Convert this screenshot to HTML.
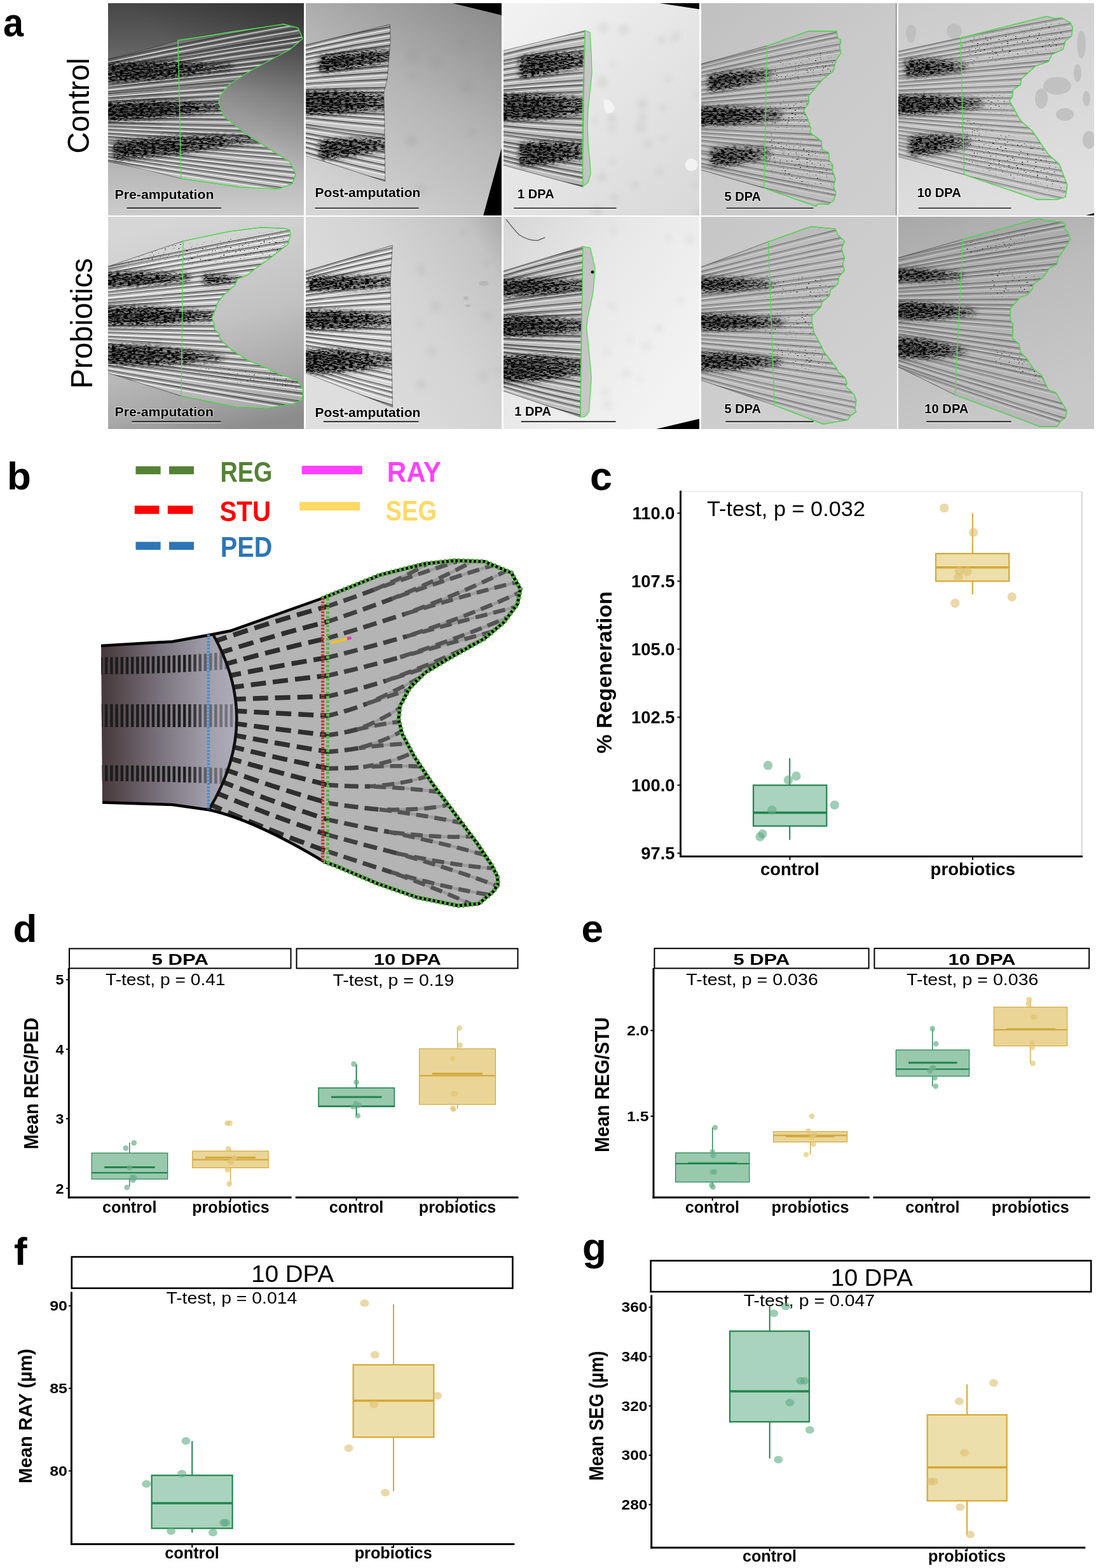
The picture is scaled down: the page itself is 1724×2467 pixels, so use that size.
<!DOCTYPE html>
<html><head><meta charset="utf-8"><title>Figure</title>
<style>html,body{margin:0;padding:0;background:#fff;}body{width:1724px;height:2467px;overflow:hidden;}svg{display:block;}</style>
</head><body>
<svg width="1724" height="2467" viewBox="0 0 1724 2467" font-family="'Liberation Sans', Arial, Helvetica, sans-serif">
<defs><filter id="pig0" x="-15%" y="-60%" width="130%" height="220%" color-interpolation-filters="sRGB">
<feGaussianBlur in="SourceGraphic" stdDeviation="4" result="b"/>
<feTurbulence type="fractalNoise" baseFrequency="0.16 0.5" numOctaves="2" seed="1" result="t"/>
<feColorMatrix in="t" type="matrix" values="0 0 0 0 0 0 0 0 0 0 0 0 0 0 0 9 0 0 0 -4.3" result="sp"/>
<feComposite in="sp" in2="b" operator="arithmetic" k1="1.2" k2="0" k3="0.6" k4="0"/>
</filter>
<filter id="spf0" x="-10%" y="-30%" width="120%" height="160%" color-interpolation-filters="sRGB">
<feGaussianBlur in="SourceGraphic" stdDeviation="6" result="b"/>
<feTurbulence type="fractalNoise" baseFrequency="0.38 0.6" numOctaves="1" seed="3" result="t"/>
<feColorMatrix in="t" type="matrix" values="0 0 0 0 0 0 0 0 0 0 0 0 0 0 0 16 0 0 0 -10.9" result="sp"/>
<feComposite in="sp" in2="b" operator="arithmetic" k1="1" k2="0" k3="0" k4="0"/>
</filter><filter id="pig1" x="-15%" y="-60%" width="130%" height="220%" color-interpolation-filters="sRGB">
<feGaussianBlur in="SourceGraphic" stdDeviation="4" result="b"/>
<feTurbulence type="fractalNoise" baseFrequency="0.16 0.5" numOctaves="2" seed="8" result="t"/>
<feColorMatrix in="t" type="matrix" values="0 0 0 0 0 0 0 0 0 0 0 0 0 0 0 9 0 0 0 -4.3" result="sp"/>
<feComposite in="sp" in2="b" operator="arithmetic" k1="1.2" k2="0" k3="0.6" k4="0"/>
</filter>
<filter id="spf1" x="-10%" y="-30%" width="120%" height="160%" color-interpolation-filters="sRGB">
<feGaussianBlur in="SourceGraphic" stdDeviation="6" result="b"/>
<feTurbulence type="fractalNoise" baseFrequency="0.38 0.6" numOctaves="1" seed="8" result="t"/>
<feColorMatrix in="t" type="matrix" values="0 0 0 0 0 0 0 0 0 0 0 0 0 0 0 16 0 0 0 -10.9" result="sp"/>
<feComposite in="sp" in2="b" operator="arithmetic" k1="1" k2="0" k3="0" k4="0"/>
</filter><filter id="pig2" x="-15%" y="-60%" width="130%" height="220%" color-interpolation-filters="sRGB">
<feGaussianBlur in="SourceGraphic" stdDeviation="4" result="b"/>
<feTurbulence type="fractalNoise" baseFrequency="0.16 0.5" numOctaves="2" seed="15" result="t"/>
<feColorMatrix in="t" type="matrix" values="0 0 0 0 0 0 0 0 0 0 0 0 0 0 0 9 0 0 0 -4.3" result="sp"/>
<feComposite in="sp" in2="b" operator="arithmetic" k1="1.2" k2="0" k3="0.6" k4="0"/>
</filter>
<filter id="spf2" x="-10%" y="-30%" width="120%" height="160%" color-interpolation-filters="sRGB">
<feGaussianBlur in="SourceGraphic" stdDeviation="6" result="b"/>
<feTurbulence type="fractalNoise" baseFrequency="0.38 0.6" numOctaves="1" seed="13" result="t"/>
<feColorMatrix in="t" type="matrix" values="0 0 0 0 0 0 0 0 0 0 0 0 0 0 0 16 0 0 0 -10.9" result="sp"/>
<feComposite in="sp" in2="b" operator="arithmetic" k1="1" k2="0" k3="0" k4="0"/>
</filter><filter id="pig3" x="-15%" y="-60%" width="130%" height="220%" color-interpolation-filters="sRGB">
<feGaussianBlur in="SourceGraphic" stdDeviation="4" result="b"/>
<feTurbulence type="fractalNoise" baseFrequency="0.16 0.5" numOctaves="2" seed="22" result="t"/>
<feColorMatrix in="t" type="matrix" values="0 0 0 0 0 0 0 0 0 0 0 0 0 0 0 9 0 0 0 -4.3" result="sp"/>
<feComposite in="sp" in2="b" operator="arithmetic" k1="1.2" k2="0" k3="0.6" k4="0"/>
</filter>
<filter id="spf3" x="-10%" y="-30%" width="120%" height="160%" color-interpolation-filters="sRGB">
<feGaussianBlur in="SourceGraphic" stdDeviation="6" result="b"/>
<feTurbulence type="fractalNoise" baseFrequency="0.38 0.6" numOctaves="1" seed="18" result="t"/>
<feColorMatrix in="t" type="matrix" values="0 0 0 0 0 0 0 0 0 0 0 0 0 0 0 16 0 0 0 -10.9" result="sp"/>
<feComposite in="sp" in2="b" operator="arithmetic" k1="1" k2="0" k3="0" k4="0"/>
</filter><filter id="pig4" x="-15%" y="-60%" width="130%" height="220%" color-interpolation-filters="sRGB">
<feGaussianBlur in="SourceGraphic" stdDeviation="4" result="b"/>
<feTurbulence type="fractalNoise" baseFrequency="0.16 0.5" numOctaves="2" seed="29" result="t"/>
<feColorMatrix in="t" type="matrix" values="0 0 0 0 0 0 0 0 0 0 0 0 0 0 0 9 0 0 0 -4.3" result="sp"/>
<feComposite in="sp" in2="b" operator="arithmetic" k1="1.2" k2="0" k3="0.6" k4="0"/>
</filter>
<filter id="spf4" x="-10%" y="-30%" width="120%" height="160%" color-interpolation-filters="sRGB">
<feGaussianBlur in="SourceGraphic" stdDeviation="6" result="b"/>
<feTurbulence type="fractalNoise" baseFrequency="0.38 0.6" numOctaves="1" seed="23" result="t"/>
<feColorMatrix in="t" type="matrix" values="0 0 0 0 0 0 0 0 0 0 0 0 0 0 0 16 0 0 0 -10.9" result="sp"/>
<feComposite in="sp" in2="b" operator="arithmetic" k1="1" k2="0" k3="0" k4="0"/>
</filter><filter id="pig5" x="-15%" y="-60%" width="130%" height="220%" color-interpolation-filters="sRGB">
<feGaussianBlur in="SourceGraphic" stdDeviation="4" result="b"/>
<feTurbulence type="fractalNoise" baseFrequency="0.16 0.5" numOctaves="2" seed="36" result="t"/>
<feColorMatrix in="t" type="matrix" values="0 0 0 0 0 0 0 0 0 0 0 0 0 0 0 9 0 0 0 -4.3" result="sp"/>
<feComposite in="sp" in2="b" operator="arithmetic" k1="1.2" k2="0" k3="0.6" k4="0"/>
</filter>
<filter id="spf5" x="-10%" y="-30%" width="120%" height="160%" color-interpolation-filters="sRGB">
<feGaussianBlur in="SourceGraphic" stdDeviation="6" result="b"/>
<feTurbulence type="fractalNoise" baseFrequency="0.38 0.6" numOctaves="1" seed="28" result="t"/>
<feColorMatrix in="t" type="matrix" values="0 0 0 0 0 0 0 0 0 0 0 0 0 0 0 16 0 0 0 -10.9" result="sp"/>
<feComposite in="sp" in2="b" operator="arithmetic" k1="1" k2="0" k3="0" k4="0"/>
</filter><filter id="pig6" x="-15%" y="-60%" width="130%" height="220%" color-interpolation-filters="sRGB">
<feGaussianBlur in="SourceGraphic" stdDeviation="4" result="b"/>
<feTurbulence type="fractalNoise" baseFrequency="0.16 0.5" numOctaves="2" seed="43" result="t"/>
<feColorMatrix in="t" type="matrix" values="0 0 0 0 0 0 0 0 0 0 0 0 0 0 0 9 0 0 0 -4.3" result="sp"/>
<feComposite in="sp" in2="b" operator="arithmetic" k1="1.2" k2="0" k3="0.6" k4="0"/>
</filter>
<filter id="spf6" x="-10%" y="-30%" width="120%" height="160%" color-interpolation-filters="sRGB">
<feGaussianBlur in="SourceGraphic" stdDeviation="6" result="b"/>
<feTurbulence type="fractalNoise" baseFrequency="0.38 0.6" numOctaves="1" seed="33" result="t"/>
<feColorMatrix in="t" type="matrix" values="0 0 0 0 0 0 0 0 0 0 0 0 0 0 0 16 0 0 0 -10.9" result="sp"/>
<feComposite in="sp" in2="b" operator="arithmetic" k1="1" k2="0" k3="0" k4="0"/>
</filter><filter id="pig7" x="-15%" y="-60%" width="130%" height="220%" color-interpolation-filters="sRGB">
<feGaussianBlur in="SourceGraphic" stdDeviation="4" result="b"/>
<feTurbulence type="fractalNoise" baseFrequency="0.16 0.5" numOctaves="2" seed="50" result="t"/>
<feColorMatrix in="t" type="matrix" values="0 0 0 0 0 0 0 0 0 0 0 0 0 0 0 9 0 0 0 -4.3" result="sp"/>
<feComposite in="sp" in2="b" operator="arithmetic" k1="1.2" k2="0" k3="0.6" k4="0"/>
</filter>
<filter id="spf7" x="-10%" y="-30%" width="120%" height="160%" color-interpolation-filters="sRGB">
<feGaussianBlur in="SourceGraphic" stdDeviation="6" result="b"/>
<feTurbulence type="fractalNoise" baseFrequency="0.38 0.6" numOctaves="1" seed="38" result="t"/>
<feColorMatrix in="t" type="matrix" values="0 0 0 0 0 0 0 0 0 0 0 0 0 0 0 16 0 0 0 -10.9" result="sp"/>
<feComposite in="sp" in2="b" operator="arithmetic" k1="1" k2="0" k3="0" k4="0"/>
</filter><filter id="pig8" x="-15%" y="-60%" width="130%" height="220%" color-interpolation-filters="sRGB">
<feGaussianBlur in="SourceGraphic" stdDeviation="4" result="b"/>
<feTurbulence type="fractalNoise" baseFrequency="0.16 0.5" numOctaves="2" seed="57" result="t"/>
<feColorMatrix in="t" type="matrix" values="0 0 0 0 0 0 0 0 0 0 0 0 0 0 0 9 0 0 0 -4.3" result="sp"/>
<feComposite in="sp" in2="b" operator="arithmetic" k1="1.2" k2="0" k3="0.6" k4="0"/>
</filter>
<filter id="spf8" x="-10%" y="-30%" width="120%" height="160%" color-interpolation-filters="sRGB">
<feGaussianBlur in="SourceGraphic" stdDeviation="6" result="b"/>
<feTurbulence type="fractalNoise" baseFrequency="0.38 0.6" numOctaves="1" seed="43" result="t"/>
<feColorMatrix in="t" type="matrix" values="0 0 0 0 0 0 0 0 0 0 0 0 0 0 0 16 0 0 0 -10.9" result="sp"/>
<feComposite in="sp" in2="b" operator="arithmetic" k1="1" k2="0" k3="0" k4="0"/>
</filter><filter id="pig9" x="-15%" y="-60%" width="130%" height="220%" color-interpolation-filters="sRGB">
<feGaussianBlur in="SourceGraphic" stdDeviation="4" result="b"/>
<feTurbulence type="fractalNoise" baseFrequency="0.16 0.5" numOctaves="2" seed="64" result="t"/>
<feColorMatrix in="t" type="matrix" values="0 0 0 0 0 0 0 0 0 0 0 0 0 0 0 9 0 0 0 -4.3" result="sp"/>
<feComposite in="sp" in2="b" operator="arithmetic" k1="1.2" k2="0" k3="0.6" k4="0"/>
</filter>
<filter id="spf9" x="-10%" y="-30%" width="120%" height="160%" color-interpolation-filters="sRGB">
<feGaussianBlur in="SourceGraphic" stdDeviation="6" result="b"/>
<feTurbulence type="fractalNoise" baseFrequency="0.38 0.6" numOctaves="1" seed="48" result="t"/>
<feColorMatrix in="t" type="matrix" values="0 0 0 0 0 0 0 0 0 0 0 0 0 0 0 16 0 0 0 -10.9" result="sp"/>
<feComposite in="sp" in2="b" operator="arithmetic" k1="1" k2="0" k3="0" k4="0"/>
</filter><filter id="bl2" x="-20%" y="-50%" width="140%" height="200%"><feGaussianBlur stdDeviation="2.2"/></filter><filter id="bl4" x="-20%" y="-50%" width="140%" height="200%"><feGaussianBlur stdDeviation="4"/></filter><filter id="bl10" x="-50%" y="-50%" width="200%" height="200%"><feGaussianBlur stdDeviation="10"/></filter><clipPath id="clipP"><rect width="308" height="334"/></clipPath><linearGradient id="p11bg0" x1="0" y1="0" x2="0" y2="334" gradientUnits="userSpaceOnUse"><stop offset="0" stop-color="#474747"/><stop offset="0.2" stop-color="#5f5f5f"/><stop offset="0.42" stop-color="#8c8c8c"/><stop offset="0.7" stop-color="#aeaeae"/><stop offset="1" stop-color="#cccccc"/></linearGradient><linearGradient id="p11bg1" x1="308" y1="0" x2="170" y2="140" gradientUnits="userSpaceOnUse"><stop offset="0" stop-color="#000" stop-opacity="0.3"/><stop offset="1" stop-color="#000" stop-opacity="0"/></linearGradient><clipPath id="p11fc"><path d="M-5.0,89.0 L60.0,73.0 L110.0,58.5 L200.0,42.0 L276.0,33.0 L299.0,39.0 L306.0,56.0 L286.0,73.0 L223.0,107.0 L191.0,128.0 L176.0,146.0 L174.0,156.0 L182.0,178.0 L217.0,206.0 L286.0,250.0 L295.0,269.0 L290.0,284.0 L269.0,292.0 L211.0,290.0 L115.0,276.0 L60.0,262.0 L-5.0,248.0 Z"/></clipPath><linearGradient id="p12bg0" x1="260" y1="0" x2="60" y2="334" gradientUnits="userSpaceOnUse"><stop offset="0" stop-color="#8e8e8e"/><stop offset="0.45" stop-color="#b6b6b6"/><stop offset="1" stop-color="#d6d6d6"/></linearGradient><clipPath id="p12fc"><path d="M-5.0,67.0 L132.4,33.6 L133.0,60.0 L128.0,120.0 L122.8,141.0 L124.0,200.0 L124.8,280.2 L-5.0,238.0 Z"/></clipPath><linearGradient id="p13bg0" x1="0" y1="0" x2="308" y2="334" gradientUnits="userSpaceOnUse"><stop offset="0" stop-color="#f3f3f3"/><stop offset="0.45" stop-color="#e6e6e6"/><stop offset="1" stop-color="#d8d8d8"/></linearGradient><clipPath id="p13fc"><path d="M-5.0,76.0 L128.2,43.2 L126.0,150.0 L124.5,270.0 L124.8,289.0 L-5.0,253.4 Z"/></clipPath><linearGradient id="p14bg0" x1="0" y1="0" x2="308" y2="334" gradientUnits="userSpaceOnUse"><stop offset="0" stop-color="#c0c0c0"/><stop offset="0.5" stop-color="#cacaca"/><stop offset="1" stop-color="#cfcfcf"/></linearGradient><clipPath id="p14fc"><path d="M-5.0,97.0 L103.6,67.2 L168.9,43.8 L213.0,43.8 L215.0,55.7 L219.7,57.6 L217.8,69.0 L219.7,78.7 L212.0,90.2 L207.3,107.5 L191.9,119.0 L168.9,145.9 L168.9,157.4 L161.2,168.9 L167.0,180.4 L172.7,197.7 L170.8,203.4 L189.0,216.9 L190.0,230.3 L200.5,235.1 L201.5,247.6 L207.3,255.2 L206.3,262.9 L211.1,276.4 L208.2,287.9 L212.0,299.4 L208.2,310.9 L199.6,316.7 L184.2,315.7 L180.4,319.5 L98.8,290.8 L-5.0,261.0 Z"/></clipPath><linearGradient id="p15bg0" x1="0" y1="0" x2="120" y2="334" gradientUnits="userSpaceOnUse"><stop offset="0" stop-color="#cacaca"/><stop offset="0.5" stop-color="#d5d5d5"/><stop offset="1" stop-color="#dfdfdf"/></linearGradient><clipPath id="p15fc"><path d="M-5.0,77.0 L97.9,54.7 L233.2,20.7 L245.6,24.0 L257.2,23.0 L270.6,30.7 L274.4,38.4 L272.5,51.8 L262.9,59.5 L259.1,72.9 L241.8,80.6 L236.0,92.1 L215.9,98.8 L193.8,119.0 L191.9,128.6 L180.4,136.3 L179.4,147.8 L174.6,153.5 L180.4,163.1 L191.9,184.2 L211.1,201.5 L236.0,238.0 L253.3,253.3 L265.8,286.0 L262.9,305.1 L249.5,309.0 L218.8,309.0 L103.6,269.6 L-5.0,240.0 Z"/></clipPath><linearGradient id="p21bg0" x1="120" y1="0" x2="220" y2="334" gradientUnits="userSpaceOnUse"><stop offset="0" stop-color="#d6d6d6"/><stop offset="0.5" stop-color="#c2c2c2"/><stop offset="0.8" stop-color="#a8a8a8"/><stop offset="1" stop-color="#8c8c8c"/></linearGradient><clipPath id="p21fc"><path d="M-5.0,80.0 L118.0,38.4 L191.9,23.0 L239.9,16.9 L276.3,18.2 L285.9,21.1 L286.9,28.8 L283.0,43.2 L266.7,55.7 L249.5,69.1 L230.3,82.5 L218.8,92.1 L203.4,97.9 L199.6,107.5 L182.3,122.8 L172.7,134.3 L168.9,145.9 L163.1,159.3 L167.0,168.9 L167.0,176.6 L174.6,184.2 L175.6,191.9 L193.8,209.2 L220.7,226.4 L249.5,238.0 L268.7,247.6 L297.4,257.2 L307.0,272.5 L305.1,287.9 L293.6,293.6 L249.5,301.3 L201.5,299.4 L115.1,282.1 L-5.0,244.0 Z"/></clipPath><linearGradient id="p22bg0" x1="0" y1="200" x2="308" y2="0" gradientUnits="userSpaceOnUse"><stop offset="0" stop-color="#dedede"/><stop offset="0.5" stop-color="#d4d4d4"/><stop offset="0.85" stop-color="#c4c4c4"/><stop offset="1" stop-color="#a8a8a8"/></linearGradient><clipPath id="p22fc"><path d="M-5.0,87.0 L136.3,45.1 L133.0,100.0 L134.0,170.0 L136.5,299.4 L-5.0,244.0 Z"/></clipPath><linearGradient id="p23bg0" x1="0" y1="0" x2="308" y2="220" gradientUnits="userSpaceOnUse"><stop offset="0" stop-color="#d6d6d6"/><stop offset="0.45" stop-color="#e8e8e8"/><stop offset="1" stop-color="#f3f3f3"/></linearGradient><clipPath id="p23fc"><path d="M-5.0,87.0 L124.8,47.0 L121.0,315.0 L-5.0,272.5 Z"/></clipPath><linearGradient id="p24bg0" x1="0" y1="0" x2="308" y2="334" gradientUnits="userSpaceOnUse"><stop offset="0" stop-color="#c6c6c6"/><stop offset="0.5" stop-color="#cdcdcd"/><stop offset="1" stop-color="#d2d2d2"/></linearGradient><clipPath id="p24fc"><path d="M-5.0,81.0 L105.6,39.3 L172.7,15.4 L211.1,19.2 L215.0,28.8 L225.5,38.4 L220.7,49.9 L225.5,65.3 L222.6,74.9 L225.5,84.5 L216.9,94.0 L215.0,105.6 L203.4,115.2 L201.5,124.8 L190.0,134.4 L188.1,142.0 L174.6,155.5 L173.7,163.1 L177.5,182.3 L190.0,205.4 L191.9,211.1 L213.0,238.0 L215.0,243.8 L226.5,253.4 L229.4,263.0 L226.5,265.8 L240.9,280.2 L243.8,289.8 L241.8,303.3 L243.8,307.1 L235.1,312.9 L230.3,319.6 L191.9,326.3 L115.2,296.5 L-5.0,255.3 Z"/></clipPath><linearGradient id="p25bg0" x1="0" y1="0" x2="120" y2="334" gradientUnits="userSpaceOnUse"><stop offset="0" stop-color="#a8a8a8"/><stop offset="0.45" stop-color="#bcbcbc"/><stop offset="1" stop-color="#c8c8c8"/></linearGradient><clipPath id="p25fc"><path d="M-5.0,66.0 L101.7,35.5 L220.7,2.9 L230.3,5.8 L259.1,8.6 L262.9,13.4 L261.0,17.3 L266.8,25.0 L270.6,35.5 L262.9,48.0 L255.3,59.5 L251.4,65.3 L249.5,74.9 L238.0,80.6 L227.4,96.0 L213.0,105.6 L211.1,113.2 L203.4,122.8 L191.9,126.7 L176.6,144.0 L175.6,161.2 L180.4,168.9 L179.5,191.9 L190.0,199.6 L191.9,213.0 L201.5,222.6 L213.0,239.9 L225.5,249.5 L236.1,272.5 L247.6,276.4 L264.9,305.1 L262.9,316.7 L256.2,320.5 L249.5,330.1 L222.6,330.1 L89.2,280.2 L-5.0,234.0 Z"/></clipPath></defs>
<rect width="1724" height="2467" fill="#fff"/>
<g transform="translate(170,5)"><g clip-path="url(#clipP)"><rect width="308" height="334" fill="url(#p11bg0)"/><rect width="308" height="334" fill="url(#p11bg1)"/><path d="M-5.0,89.0 L60.0,73.0 L110.0,58.5 L200.0,42.0 L276.0,33.0 L299.0,39.0 L306.0,56.0 L286.0,73.0 L223.0,107.0 L191.0,128.0 L176.0,146.0 L174.0,156.0 L182.0,178.0 L217.0,206.0 L286.0,250.0 L295.0,269.0 L290.0,284.0 L269.0,292.0 L211.0,290.0 L115.0,276.0 L60.0,262.0 L-5.0,248.0 Z" fill="#d0d0d0" fill-opacity="0.22" stroke="#2a2a2a" stroke-opacity="0.5" stroke-width="1.2"/><g clip-path="url(#p11fc)" fill="none"><g stroke="#f6f6f6" stroke-width="2.2" stroke-opacity="0.6"><path d="M-10,95.3 Q151.0,59.9 317.0,30.5"/><path d="M-10,100.8 Q151.0,67.6 317.0,40.1"/><path d="M-10,107.5 Q151.0,77.1 317.0,51.8"/><path d="M-10,111.2 Q151.0,82.3 317.0,58.3"/><path d="M-10,116.6 Q151.0,89.9 317.0,67.7"/><path d="M-10,123.4 Q151.0,99.6 317.0,79.7"/><path d="M-10,128.6 Q151.0,106.9 317.0,88.7"/><path d="M-10,132.9 Q151.0,113.0 317.0,96.3"/><path d="M-10,137.8 Q151.0,120.0 317.0,105.0"/><path d="M-10,144.8 Q151.0,129.8 317.0,117.1"/><path d="M-10,148.1 Q151.0,134.6 317.0,123.0"/><path d="M-10,153.8 Q151.0,142.6 317.0,132.9"/><path d="M-10,159.4 Q151.0,150.6 317.0,142.8"/><path d="M-10,165.4 Q151.0,159.0 317.0,153.3"/><path d="M-10,171.2 Q151.0,167.2 317.0,163.4"/><path d="M-10,175.6 Q151.0,173.5 317.0,171.1"/><path d="M-10,180.1 Q151.0,179.8 317.0,178.9"/><path d="M-10,185.4 Q151.0,187.4 317.0,188.3"/><path d="M-10,191.7 Q151.0,196.2 317.0,199.3"/><path d="M-10,196.7 Q151.0,203.4 317.0,208.2"/><path d="M-10,202.1 Q151.0,210.9 317.0,217.5"/><path d="M-10,207.9 Q151.0,219.1 317.0,227.7"/><path d="M-10,213.2 Q151.0,226.6 317.0,236.9"/><path d="M-10,218.0 Q151.0,233.5 317.0,245.4"/><path d="M-10,222.3 Q151.0,239.5 317.0,252.8"/><path d="M-10,229.0 Q151.0,249.0 317.0,264.7"/><path d="M-10,233.7 Q151.0,255.7 317.0,272.9"/><path d="M-10,239.2 Q151.0,263.4 317.0,282.5"/><path d="M-10,243.7 Q151.0,269.9 317.0,290.5"/><path d="M-10,249.5 Q151.0,278.1 317.0,300.6"/></g><g stroke="#1a1a1a" stroke-width="1.1" stroke-opacity="0.85"><path d="M-10,90.9 Q151.0,55.5 317.0,26.1"/><path d="M-10,96.4 Q151.0,63.2 317.0,35.7"/><path d="M-10,103.1 Q151.0,72.7 317.0,47.4"/><path d="M-10,106.8 Q151.0,77.9 317.0,53.9"/><path d="M-10,112.2 Q151.0,85.5 317.0,63.3"/><path d="M-10,119.0 Q151.0,95.2 317.0,75.3"/><path d="M-10,124.2 Q151.0,102.5 317.0,84.3"/><path d="M-10,128.5 Q151.0,108.6 317.0,91.9"/><path d="M-10,133.4 Q151.0,115.6 317.0,100.6"/><path d="M-10,140.4 Q151.0,125.4 317.0,112.7"/><path d="M-10,143.7 Q151.0,130.2 317.0,118.6"/><path d="M-10,149.4 Q151.0,138.2 317.0,128.5"/><path d="M-10,155.0 Q151.0,146.2 317.0,138.4"/><path d="M-10,161.0 Q151.0,154.6 317.0,148.9"/><path d="M-10,166.8 Q151.0,162.8 317.0,159.0"/><path d="M-10,171.2 Q151.0,169.1 317.0,166.7"/><path d="M-10,175.7 Q151.0,175.4 317.0,174.5"/><path d="M-10,181.0 Q151.0,183.0 317.0,183.9"/><path d="M-10,187.3 Q151.0,191.8 317.0,194.9"/><path d="M-10,192.3 Q151.0,199.0 317.0,203.8"/><path d="M-10,197.7 Q151.0,206.5 317.0,213.1"/><path d="M-10,203.5 Q151.0,214.7 317.0,223.3"/><path d="M-10,208.8 Q151.0,222.2 317.0,232.5"/><path d="M-10,213.6 Q151.0,229.1 317.0,241.0"/><path d="M-10,217.9 Q151.0,235.1 317.0,248.4"/><path d="M-10,224.6 Q151.0,244.6 317.0,260.3"/><path d="M-10,229.3 Q151.0,251.3 317.0,268.5"/><path d="M-10,234.8 Q151.0,259.0 317.0,278.1"/><path d="M-10,239.3 Q151.0,265.5 317.0,286.1"/><path d="M-10,245.1 Q151.0,273.7 317.0,296.2"/></g><g stroke="#1a1a1a" stroke-width="0.9" stroke-opacity="0.47"><path d="M-10,92.9 Q151.0,57.5 317.0,28.1"/><path d="M-10,98.4 Q151.0,65.2 317.0,37.7"/><path d="M-10,105.1 Q151.0,74.7 317.0,49.4"/><path d="M-10,108.8 Q151.0,79.9 317.0,55.9"/><path d="M-10,114.2 Q151.0,87.5 317.0,65.3"/><path d="M-10,121.0 Q151.0,97.2 317.0,77.3"/><path d="M-10,126.2 Q151.0,104.5 317.0,86.3"/><path d="M-10,130.5 Q151.0,110.6 317.0,93.9"/><path d="M-10,135.4 Q151.0,117.6 317.0,102.6"/><path d="M-10,142.4 Q151.0,127.4 317.0,114.7"/><path d="M-10,145.7 Q151.0,132.2 317.0,120.6"/><path d="M-10,151.4 Q151.0,140.2 317.0,130.5"/><path d="M-10,157.0 Q151.0,148.2 317.0,140.4"/><path d="M-10,163.0 Q151.0,156.6 317.0,150.9"/><path d="M-10,168.8 Q151.0,164.8 317.0,161.0"/><path d="M-10,173.2 Q151.0,171.1 317.0,168.7"/><path d="M-10,177.7 Q151.0,177.4 317.0,176.5"/><path d="M-10,183.0 Q151.0,185.0 317.0,185.9"/><path d="M-10,189.3 Q151.0,193.8 317.0,196.9"/><path d="M-10,194.3 Q151.0,201.0 317.0,205.8"/><path d="M-10,199.7 Q151.0,208.5 317.0,215.1"/><path d="M-10,205.5 Q151.0,216.7 317.0,225.3"/><path d="M-10,210.8 Q151.0,224.2 317.0,234.5"/><path d="M-10,215.6 Q151.0,231.1 317.0,243.0"/><path d="M-10,219.9 Q151.0,237.1 317.0,250.4"/><path d="M-10,226.6 Q151.0,246.6 317.0,262.3"/><path d="M-10,231.3 Q151.0,253.3 317.0,270.5"/><path d="M-10,236.8 Q151.0,261.0 317.0,280.1"/><path d="M-10,241.3 Q151.0,267.5 317.0,288.1"/><path d="M-10,247.1 Q151.0,275.7 317.0,298.2"/></g><g filter="url(#pig0)"><polygon points="-2.0,95.6 84.4,91.1 190.0,94.2 200.0,100.0 190.0,105.8 84.4,119.9 -2.0,124.4" fill="#000" fill-opacity="0.47"/><polygon points="-2.0,96.3 62.8,92.9 142.0,95.7 152.0,102.5 142.0,109.3 62.8,120.3 -2.0,123.7" fill="#000" fill-opacity="0.42"/><polygon points="-2.0,97.8 36.9,95.7 84.4,97.9 94.4,105.5 84.4,113.1 36.9,120.2 -2.0,122.2" fill="#000" fill-opacity="0.42"/><polygon points="-2.0,156.6 79.0,152.5 178.0,156.2 188.0,162.0 178.0,167.8 79.0,181.3 -2.0,185.4" fill="#000" fill-opacity="0.52"/><polygon points="-2.0,157.3 58.8,154.3 133.0,157.4 143.0,164.2 133.0,171.1 58.8,181.6 -2.0,184.7" fill="#000" fill-opacity="0.47"/><polygon points="-2.0,158.8 34.5,156.9 79.0,159.4 89.0,166.9 79.0,174.5 34.5,181.4 -2.0,183.2" fill="#000" fill-opacity="0.47"/><polygon points="10.0,217.6 111.2,208.6 235.0,205.3 245.0,212.0 235.0,218.7 111.2,237.4 10.0,246.4" fill="#000" fill-opacity="0.44"/><polygon points="10.0,218.3 85.9,211.6 178.8,209.5 188.8,217.0 178.8,224.5 85.9,238.9 10.0,245.7" fill="#000" fill-opacity="0.40"/><polygon points="10.0,219.8 55.6,215.7 111.2,215.0 121.2,223.0 111.2,231.0 55.6,240.2 10.0,244.2" fill="#000" fill-opacity="0.40"/></g></g><polygon points="110.0,58.5 276.0,33.0 299.0,39.0 306.0,56.0 286.0,73.0 223.0,107.0 191.0,128.0 176.0,146.0 174.0,156.0 182.0,178.0 217.0,206.0 286.0,250.0 295.0,269.0 290.0,284.0 269.0,292.0 211.0,290.0 115.0,276.0" fill="none" stroke="#4fe04f" stroke-width="1.4" stroke-linejoin="round"/><text x="10.6" y="308" font-size="20.8" font-weight="bold" textLength="155.8" lengthAdjust="spacingAndGlyphs" stroke="#fff" stroke-width="2.2" stroke-opacity="0.55" paint-order="stroke" stroke-linejoin="round">Pre-amputation</text><line x1="29.5" y1="323.4" x2="178" y2="323.4" stroke="#fff" stroke-opacity="0.5" stroke-width="3"/><line x1="29.5" y1="322.4" x2="178" y2="322.4" stroke="#111" stroke-width="1.7"/></g></g><g transform="translate(481,5)"><g clip-path="url(#clipP)"><rect width="308" height="334" fill="url(#p12bg0)"/><g fill="#909090" opacity="0.2" filter="url(#bl4)"><circle cx="166" cy="217" r="9.6"/><circle cx="291" cy="96" r="6.8"/><circle cx="260" cy="204" r="7.1"/><circle cx="253" cy="131" r="10.4"/><circle cx="168" cy="83" r="11.3"/><circle cx="204" cy="93" r="10.6"/><circle cx="245" cy="62" r="8.9"/><circle cx="250" cy="66" r="9.6"/><circle cx="168" cy="114" r="5.6"/><circle cx="181" cy="294" r="7.8"/></g><path d="M-5.0,67.0 L132.4,33.6 L133.0,60.0 L128.0,120.0 L122.8,141.0 L124.0,200.0 L124.8,280.2 L-5.0,238.0 Z" fill="#c8c8c8" fill-opacity="0.2" stroke="#2a2a2a" stroke-opacity="0.5" stroke-width="1.2"/><g clip-path="url(#p12fc)" fill="none"><g stroke="#f6f6f6" stroke-width="2.2" stroke-opacity="0.6"><path d="M-10,73.0 Q65.0,53.1 145.0,39.2"/><path d="M-10,79.8 Q65.0,61.7 145.0,49.1"/><path d="M-10,87.1 Q65.0,70.9 145.0,59.6"/><path d="M-10,93.6 Q65.0,79.1 145.0,69.0"/><path d="M-10,102.8 Q65.0,90.5 145.0,82.2"/><path d="M-10,109.7 Q65.0,99.2 145.0,92.1"/><path d="M-10,116.3 Q65.0,107.5 145.0,101.6"/><path d="M-10,123.5 Q65.0,116.6 145.0,112.1"/><path d="M-10,131.5 Q65.0,126.6 145.0,123.6"/><path d="M-10,140.7 Q65.0,138.1 145.0,136.8"/><path d="M-10,145.8 Q65.0,144.6 145.0,144.3"/><path d="M-10,153.8 Q65.0,154.7 145.0,155.8"/><path d="M-10,161.5 Q65.0,164.3 145.0,166.9"/><path d="M-10,170.7 Q65.0,175.9 145.0,180.2"/><path d="M-10,176.3 Q65.0,182.9 145.0,188.2"/><path d="M-10,183.5 Q65.0,192.0 145.0,198.6"/><path d="M-10,193.6 Q65.0,204.7 145.0,213.2"/><path d="M-10,197.9 Q65.0,210.0 145.0,219.4"/><path d="M-10,206.9 Q65.0,221.3 145.0,232.4"/><path d="M-10,213.4 Q65.0,229.5 145.0,241.7"/><path d="M-10,220.9 Q65.0,238.9 145.0,252.6"/><path d="M-10,228.1 Q65.0,247.9 145.0,262.9"/><path d="M-10,236.2 Q65.0,258.1 145.0,274.5"/><path d="M-10,245.4 Q65.0,269.6 145.0,287.8"/></g><g stroke="#1a1a1a" stroke-width="1.1" stroke-opacity="0.9"><path d="M-10,68.6 Q65.0,48.7 145.0,34.8"/><path d="M-10,75.4 Q65.0,57.3 145.0,44.7"/><path d="M-10,82.7 Q65.0,66.5 145.0,55.2"/><path d="M-10,89.2 Q65.0,74.7 145.0,64.6"/><path d="M-10,98.4 Q65.0,86.1 145.0,77.8"/><path d="M-10,105.3 Q65.0,94.8 145.0,87.7"/><path d="M-10,111.9 Q65.0,103.1 145.0,97.2"/><path d="M-10,119.1 Q65.0,112.2 145.0,107.7"/><path d="M-10,127.1 Q65.0,122.2 145.0,119.2"/><path d="M-10,136.3 Q65.0,133.7 145.0,132.4"/><path d="M-10,141.4 Q65.0,140.2 145.0,139.9"/><path d="M-10,149.4 Q65.0,150.3 145.0,151.4"/><path d="M-10,157.1 Q65.0,159.9 145.0,162.5"/><path d="M-10,166.3 Q65.0,171.5 145.0,175.8"/><path d="M-10,171.9 Q65.0,178.5 145.0,183.8"/><path d="M-10,179.1 Q65.0,187.6 145.0,194.2"/><path d="M-10,189.2 Q65.0,200.3 145.0,208.8"/><path d="M-10,193.5 Q65.0,205.6 145.0,215.0"/><path d="M-10,202.5 Q65.0,216.9 145.0,228.0"/><path d="M-10,209.0 Q65.0,225.1 145.0,237.3"/><path d="M-10,216.5 Q65.0,234.5 145.0,248.2"/><path d="M-10,223.7 Q65.0,243.5 145.0,258.5"/><path d="M-10,231.8 Q65.0,253.7 145.0,270.1"/><path d="M-10,241.0 Q65.0,265.2 145.0,283.4"/></g><g stroke="#1a1a1a" stroke-width="0.9" stroke-opacity="0.50"><path d="M-10,70.6 Q65.0,50.7 145.0,36.8"/><path d="M-10,77.4 Q65.0,59.3 145.0,46.7"/><path d="M-10,84.7 Q65.0,68.5 145.0,57.2"/><path d="M-10,91.2 Q65.0,76.7 145.0,66.6"/><path d="M-10,100.4 Q65.0,88.1 145.0,79.8"/><path d="M-10,107.3 Q65.0,96.8 145.0,89.7"/><path d="M-10,113.9 Q65.0,105.1 145.0,99.2"/><path d="M-10,121.1 Q65.0,114.2 145.0,109.7"/><path d="M-10,129.1 Q65.0,124.2 145.0,121.2"/><path d="M-10,138.3 Q65.0,135.7 145.0,134.4"/><path d="M-10,143.4 Q65.0,142.2 145.0,141.9"/><path d="M-10,151.4 Q65.0,152.3 145.0,153.4"/><path d="M-10,159.1 Q65.0,161.9 145.0,164.5"/><path d="M-10,168.3 Q65.0,173.5 145.0,177.8"/><path d="M-10,173.9 Q65.0,180.5 145.0,185.8"/><path d="M-10,181.1 Q65.0,189.6 145.0,196.2"/><path d="M-10,191.2 Q65.0,202.3 145.0,210.8"/><path d="M-10,195.5 Q65.0,207.6 145.0,217.0"/><path d="M-10,204.5 Q65.0,218.9 145.0,230.0"/><path d="M-10,211.0 Q65.0,227.1 145.0,239.3"/><path d="M-10,218.5 Q65.0,236.5 145.0,250.2"/><path d="M-10,225.7 Q65.0,245.5 145.0,260.5"/><path d="M-10,233.8 Q65.0,255.7 145.0,272.1"/><path d="M-10,243.0 Q65.0,267.2 145.0,285.4"/></g><g filter="url(#pig1)"><polygon points="22.0,82.8 72.4,76.5 134.0,71.4 144.0,82.0 134.0,92.6 72.4,102.9 22.0,109.2" fill="#000" fill-opacity="0.50"/><polygon points="22.0,83.5 59.8,78.7 106.0,75.5 116.0,85.5 106.0,95.5 59.8,103.8 22.0,108.5" fill="#000" fill-opacity="0.45"/><polygon points="22.0,84.8 44.7,81.9 72.4,80.7 82.4,89.7 72.4,98.7 44.7,104.4 22.0,107.2" fill="#000" fill-opacity="0.45"/><polygon points="-5.0,139.0 53.1,138.1 124.0,141.6 134.0,155.0 124.0,168.4 53.1,174.1 -5.0,175.0" fill="#000" fill-opacity="0.53"/><polygon points="-5.0,139.9 38.5,139.2 91.8,142.5 101.8,155.5 91.8,168.5 38.5,173.4 -5.0,174.1" fill="#000" fill-opacity="0.48"/><polygon points="-5.0,141.7 21.1,141.3 53.1,144.2 63.1,156.1 53.1,168.0 21.1,171.9 -5.0,172.3" fill="#000" fill-opacity="0.48"/><polygon points="22.0,216.6 68.3,212.5 125.0,211.4 135.0,222.0 125.0,232.6 68.3,241.3 22.0,245.4" fill="#000" fill-opacity="0.48"/><polygon points="22.0,217.3 56.8,214.3 99.2,214.0 109.2,224.2 99.2,234.5 56.8,241.6 22.0,244.7" fill="#000" fill-opacity="0.44"/><polygon points="22.0,218.8 42.9,216.9 68.3,217.5 78.3,226.9 68.3,236.4 42.9,241.4 22.0,243.2" fill="#000" fill-opacity="0.44"/></g></g><polygon points="226.5,-1.0 309.0,-1.0 309.0,19.2" fill="#000"/><polygon points="309.0,224.6 309.0,335.0 279.0,335.0" fill="#000"/><text x="14.4" y="305.2" font-size="20.8" font-weight="bold" textLength="166" lengthAdjust="spacingAndGlyphs" stroke="#fff" stroke-width="2.2" stroke-opacity="0.55" paint-order="stroke" stroke-linejoin="round">Post-amputation</text><line x1="14.4" y1="323.5" x2="177.5" y2="323.5" stroke="#fff" stroke-opacity="0.5" stroke-width="3"/><line x1="14.4" y1="322.5" x2="177.5" y2="322.5" stroke="#111" stroke-width="1.7"/></g></g><g transform="translate(792,5)"><g clip-path="url(#clipP)"><rect width="308" height="334" fill="url(#p13bg0)"/><g fill="#a8a8a8" opacity="0.22" filter="url(#bl4)"><circle cx="216" cy="196" r="8.6"/><circle cx="218" cy="179" r="6.9"/><circle cx="171" cy="181" r="7.1"/><circle cx="273" cy="50" r="5.5"/><circle cx="155" cy="274" r="7.5"/><circle cx="147" cy="328" r="8.8"/><circle cx="250" cy="213" r="4.8"/><circle cx="143" cy="186" r="4.3"/><circle cx="172" cy="96" r="4.2"/><circle cx="218" cy="158" r="8.2"/><circle cx="227" cy="221" r="6.5"/><circle cx="251" cy="164" r="5.4"/><circle cx="308" cy="333" r="8.2"/><circle cx="259" cy="119" r="5.1"/><circle cx="189" cy="42" r="7.8"/><circle cx="207" cy="286" r="5.9"/><circle cx="301" cy="286" r="4.0"/><circle cx="175" cy="306" r="6.3"/><circle cx="305" cy="145" r="4.4"/><circle cx="246" cy="264" r="5.3"/><circle cx="155" cy="124" r="8.8"/><circle cx="267" cy="57" r="5.2"/><circle cx="157" cy="39" r="8.0"/><circle cx="170" cy="196" r="6.2"/><circle cx="172" cy="250" r="4.7"/><circle cx="248" cy="57" r="6.1"/></g><path d="M-5.0,76.0 L128.2,43.2 L126.0,150.0 L124.5,270.0 L124.8,289.0 L-5.0,253.4 Z" fill="#808080" fill-opacity="0.4" stroke="#2a2a2a" stroke-opacity="0.5" stroke-width="1.2"/><g clip-path="url(#p13fc)" fill="none"><g stroke="#f6f6f6" stroke-width="2.2" stroke-opacity="0.5"><path d="M-10,79.4 Q60.0,59.6 135.0,45.9"/><path d="M-10,87.2 Q60.0,69.2 135.0,56.8"/><path d="M-10,96.9 Q60.0,81.2 135.0,70.4"/><path d="M-10,101.9 Q60.0,87.3 135.0,77.3"/><path d="M-10,110.3 Q60.0,97.6 135.0,88.9"/><path d="M-10,119.1 Q60.0,108.4 135.0,101.1"/><path d="M-10,127.3 Q60.0,118.5 135.0,112.6"/><path d="M-10,135.9 Q60.0,129.1 135.0,124.5"/><path d="M-10,141.6 Q60.0,136.1 135.0,132.5"/><path d="M-10,149.1 Q60.0,145.3 135.0,142.9"/><path d="M-10,158.5 Q60.0,156.9 135.0,155.9"/><path d="M-10,166.3 Q60.0,166.4 135.0,166.7"/><path d="M-10,171.9 Q60.0,173.3 135.0,174.5"/><path d="M-10,180.5 Q60.0,183.9 135.0,186.5"/><path d="M-10,187.9 Q60.0,193.0 135.0,196.8"/><path d="M-10,196.3 Q60.0,203.3 135.0,208.4"/><path d="M-10,205.1 Q60.0,214.1 135.0,220.6"/><path d="M-10,209.7 Q60.0,219.8 135.0,227.1"/><path d="M-10,220.5 Q60.0,233.0 135.0,242.1"/><path d="M-10,226.2 Q60.0,240.1 135.0,250.0"/><path d="M-10,233.7 Q60.0,249.3 135.0,260.5"/><path d="M-10,242.6 Q60.0,260.2 135.0,272.8"/><path d="M-10,248.2 Q60.0,267.1 135.0,280.6"/><path d="M-10,257.9 Q60.0,279.0 135.0,294.0"/></g><g stroke="#1a1a1a" stroke-width="1.1" stroke-opacity="0.9"><path d="M-10,75.0 Q60.0,55.2 135.0,41.5"/><path d="M-10,82.8 Q60.0,64.8 135.0,52.4"/><path d="M-10,92.5 Q60.0,76.8 135.0,66.0"/><path d="M-10,97.5 Q60.0,82.9 135.0,72.9"/><path d="M-10,105.9 Q60.0,93.2 135.0,84.5"/><path d="M-10,114.7 Q60.0,104.0 135.0,96.7"/><path d="M-10,122.9 Q60.0,114.1 135.0,108.2"/><path d="M-10,131.5 Q60.0,124.7 135.0,120.1"/><path d="M-10,137.2 Q60.0,131.7 135.0,128.1"/><path d="M-10,144.7 Q60.0,140.9 135.0,138.5"/><path d="M-10,154.1 Q60.0,152.5 135.0,151.5"/><path d="M-10,161.9 Q60.0,162.0 135.0,162.3"/><path d="M-10,167.5 Q60.0,168.9 135.0,170.1"/><path d="M-10,176.1 Q60.0,179.5 135.0,182.1"/><path d="M-10,183.5 Q60.0,188.6 135.0,192.4"/><path d="M-10,191.9 Q60.0,198.9 135.0,204.0"/><path d="M-10,200.7 Q60.0,209.7 135.0,216.2"/><path d="M-10,205.3 Q60.0,215.4 135.0,222.7"/><path d="M-10,216.1 Q60.0,228.6 135.0,237.7"/><path d="M-10,221.8 Q60.0,235.7 135.0,245.6"/><path d="M-10,229.3 Q60.0,244.9 135.0,256.1"/><path d="M-10,238.2 Q60.0,255.8 135.0,268.4"/><path d="M-10,243.8 Q60.0,262.7 135.0,276.2"/><path d="M-10,253.5 Q60.0,274.6 135.0,289.6"/></g><g stroke="#1a1a1a" stroke-width="0.9" stroke-opacity="0.50"><path d="M-10,77.0 Q60.0,57.2 135.0,43.5"/><path d="M-10,84.8 Q60.0,66.8 135.0,54.4"/><path d="M-10,94.5 Q60.0,78.8 135.0,68.0"/><path d="M-10,99.5 Q60.0,84.9 135.0,74.9"/><path d="M-10,107.9 Q60.0,95.2 135.0,86.5"/><path d="M-10,116.7 Q60.0,106.0 135.0,98.7"/><path d="M-10,124.9 Q60.0,116.1 135.0,110.2"/><path d="M-10,133.5 Q60.0,126.7 135.0,122.1"/><path d="M-10,139.2 Q60.0,133.7 135.0,130.1"/><path d="M-10,146.7 Q60.0,142.9 135.0,140.5"/><path d="M-10,156.1 Q60.0,154.5 135.0,153.5"/><path d="M-10,163.9 Q60.0,164.0 135.0,164.3"/><path d="M-10,169.5 Q60.0,170.9 135.0,172.1"/><path d="M-10,178.1 Q60.0,181.5 135.0,184.1"/><path d="M-10,185.5 Q60.0,190.6 135.0,194.4"/><path d="M-10,193.9 Q60.0,200.9 135.0,206.0"/><path d="M-10,202.7 Q60.0,211.7 135.0,218.2"/><path d="M-10,207.3 Q60.0,217.4 135.0,224.7"/><path d="M-10,218.1 Q60.0,230.6 135.0,239.7"/><path d="M-10,223.8 Q60.0,237.7 135.0,247.6"/><path d="M-10,231.3 Q60.0,246.9 135.0,258.1"/><path d="M-10,240.2 Q60.0,257.8 135.0,270.4"/><path d="M-10,245.8 Q60.0,264.7 135.0,278.2"/><path d="M-10,255.5 Q60.0,276.6 135.0,291.6"/></g><g filter="url(#pig2)"><polygon points="26.0,84.2 71.0,78.4 126.0,75.5 136.0,88.0 126.0,100.5 71.0,112.0 26.0,117.8" fill="#000" fill-opacity="0.51"/><polygon points="26.0,85.0 59.8,80.7 101.0,79.2 111.0,91.2 101.0,103.3 59.8,112.6 26.0,117.0" fill="#000" fill-opacity="0.46"/><polygon points="26.0,86.7 46.2,84.1 71.0,84.1 81.0,95.2 71.0,106.2 46.2,112.6 26.0,115.3" fill="#000" fill-opacity="0.46"/><polygon points="-5.0,143.6 52.6,142.7 123.0,147.6 133.0,162.0 123.0,176.4 52.6,183.5 -5.0,184.4" fill="#000" fill-opacity="0.53"/><polygon points="-5.0,144.6 38.2,143.9 91.0,148.4 101.0,162.5 91.0,176.6 38.2,182.7 -5.0,183.4" fill="#000" fill-opacity="0.48"/><polygon points="-5.0,146.7 20.9,146.3 52.6,150.0 62.6,163.1 52.6,176.2 20.9,180.9 -5.0,181.3" fill="#000" fill-opacity="0.48"/><polygon points="26.0,220.0 70.6,217.3 125.0,218.6 135.0,232.0 125.0,245.4 70.6,253.3 26.0,256.0" fill="#000" fill-opacity="0.51"/><polygon points="26.0,220.9 59.4,218.9 100.2,220.5 110.2,233.5 100.2,246.5 59.4,253.1 26.0,255.1" fill="#000" fill-opacity="0.46"/><polygon points="26.0,222.7 46.0,221.5 70.6,223.4 80.6,235.3 70.6,247.2 46.0,252.1 26.0,253.3" fill="#000" fill-opacity="0.46"/></g></g><path d="M158,152 Q170,150 175,165 Q172,175 163,173 Q156,168 158,152 Z" fill="#f4f4f4"/><circle cx="295.6" cy="254.3" r="10" fill="#f2f2f2"/><polygon points="128.2,43.2 135.9,46 138,80 139,110 136,140 133,165 132,190 133,220 136,250 137,268.7 133,282 124.8,289 124,200 125.5,120" fill="#a0a0a0" opacity="0.45"/><polygon points="239.0,-1.0 309.0,-1.0 309.0,9.6" fill="#000"/><polygon points="128.2,43.2 135.9,46.0 138.0,80.0 139.0,110.0 136.0,140.0 133.0,165.0 132.0,190.0 133.0,220.0 136.0,250.0 137.0,268.7 133.0,282.0 124.8,289.0 124.0,200.0 125.5,120.0" fill="none" stroke="#4fe04f" stroke-width="1.4" stroke-linejoin="round"/><text x="22.1" y="307.1" font-size="20.8" font-weight="bold" textLength="57.6" lengthAdjust="spacingAndGlyphs" stroke="#fff" stroke-width="2.2" stroke-opacity="0.55" paint-order="stroke" stroke-linejoin="round">1 DPA</text><line x1="16.3" y1="323.5" x2="177.5" y2="323.5" stroke="#fff" stroke-opacity="0.5" stroke-width="3"/><line x1="16.3" y1="322.5" x2="177.5" y2="322.5" stroke="#111" stroke-width="1.7"/></g></g><g transform="translate(1103,5)"><g clip-path="url(#clipP)"><rect width="308" height="334" fill="url(#p14bg0)"/><path d="M-5.0,97.0 L103.6,67.2 L168.9,43.8 L213.0,43.8 L215.0,55.7 L219.7,57.6 L217.8,69.0 L219.7,78.7 L212.0,90.2 L207.3,107.5 L191.9,119.0 L168.9,145.9 L168.9,157.4 L161.2,168.9 L167.0,180.4 L172.7,197.7 L170.8,203.4 L189.0,216.9 L190.0,230.3 L200.5,235.1 L201.5,247.6 L207.3,255.2 L206.3,262.9 L211.1,276.4 L208.2,287.9 L212.0,299.4 L208.2,310.9 L199.6,316.7 L184.2,315.7 L180.4,319.5 L98.8,290.8 L-5.0,261.0 Z" fill="#9a9a9a" fill-opacity="0.3" stroke="#2a2a2a" stroke-opacity="0.5" stroke-width="1.2"/><g clip-path="url(#p14fc)" fill="none"><g stroke="#f6f6f6" stroke-width="2.2" stroke-opacity="0.22"><path d="M-10,103.6 Q107.5,72.0 230.0,46.4"/><path d="M-10,108.4 Q107.5,78.7 230.0,54.5"/><path d="M-10,115.4 Q107.5,88.4 230.0,66.4"/><path d="M-10,121.0 Q107.5,96.2 230.0,76.0"/><path d="M-10,130.1 Q107.5,108.7 230.0,91.3"/><path d="M-10,134.2 Q107.5,114.4 230.0,98.3"/><path d="M-10,142.3 Q107.5,125.6 230.0,112.0"/><path d="M-10,148.6 Q107.5,134.4 230.0,122.7"/><path d="M-10,155.5 Q107.5,143.9 230.0,134.4"/><path d="M-10,161.2 Q107.5,151.8 230.0,144.0"/><path d="M-10,167.7 Q107.5,160.7 230.0,155.0"/><path d="M-10,174.3 Q107.5,169.9 230.0,166.2"/><path d="M-10,179.9 Q107.5,177.7 230.0,175.7"/><path d="M-10,187.2 Q107.5,187.7 230.0,188.1"/><path d="M-10,193.6 Q107.5,196.6 230.0,199.0"/><path d="M-10,201.6 Q107.5,207.7 230.0,212.6"/><path d="M-10,207.2 Q107.5,215.5 230.0,222.1"/><path d="M-10,212.8 Q107.5,223.1 230.0,231.5"/><path d="M-10,219.1 Q107.5,232.0 230.0,242.3"/><path d="M-10,226.6 Q107.5,242.3 230.0,254.9"/><path d="M-10,235.0 Q107.5,253.9 230.0,269.2"/><path d="M-10,238.8 Q107.5,259.2 230.0,275.6"/><path d="M-10,246.6 Q107.5,270.0 230.0,288.8"/><path d="M-10,254.1 Q107.5,280.3 230.0,301.5"/><path d="M-10,258.7 Q107.5,286.8 230.0,309.4"/><path d="M-10,267.3 Q107.5,298.6 230.0,323.9"/></g><g stroke="#1a1a1a" stroke-width="1.1" stroke-opacity="0.55"><path d="M-10,99.2 Q107.5,67.6 230.0,42.0"/><path d="M-10,104.0 Q107.5,74.3 230.0,50.1"/><path d="M-10,111.0 Q107.5,84.0 230.0,62.0"/><path d="M-10,116.6 Q107.5,91.8 230.0,71.6"/><path d="M-10,125.7 Q107.5,104.3 230.0,86.9"/><path d="M-10,129.8 Q107.5,110.0 230.0,93.9"/><path d="M-10,137.9 Q107.5,121.2 230.0,107.6"/><path d="M-10,144.2 Q107.5,130.0 230.0,118.3"/><path d="M-10,151.1 Q107.5,139.5 230.0,130.0"/><path d="M-10,156.8 Q107.5,147.4 230.0,139.6"/><path d="M-10,163.3 Q107.5,156.3 230.0,150.6"/><path d="M-10,169.9 Q107.5,165.5 230.0,161.8"/><path d="M-10,175.5 Q107.5,173.3 230.0,171.3"/><path d="M-10,182.8 Q107.5,183.3 230.0,183.7"/><path d="M-10,189.2 Q107.5,192.2 230.0,194.6"/><path d="M-10,197.2 Q107.5,203.3 230.0,208.2"/><path d="M-10,202.8 Q107.5,211.1 230.0,217.7"/><path d="M-10,208.4 Q107.5,218.7 230.0,227.1"/><path d="M-10,214.7 Q107.5,227.6 230.0,237.9"/><path d="M-10,222.2 Q107.5,237.9 230.0,250.5"/><path d="M-10,230.6 Q107.5,249.5 230.0,264.8"/><path d="M-10,234.4 Q107.5,254.8 230.0,271.2"/><path d="M-10,242.2 Q107.5,265.6 230.0,284.4"/><path d="M-10,249.7 Q107.5,275.9 230.0,297.1"/><path d="M-10,254.3 Q107.5,282.4 230.0,305.0"/><path d="M-10,262.9 Q107.5,294.2 230.0,319.5"/></g><g stroke="#1a1a1a" stroke-width="0.9" stroke-opacity="0.30"><path d="M-10,101.2 Q107.5,69.6 230.0,44.0"/><path d="M-10,106.0 Q107.5,76.3 230.0,52.1"/><path d="M-10,113.0 Q107.5,86.0 230.0,64.0"/><path d="M-10,118.6 Q107.5,93.8 230.0,73.6"/><path d="M-10,127.7 Q107.5,106.3 230.0,88.9"/><path d="M-10,131.8 Q107.5,112.0 230.0,95.9"/><path d="M-10,139.9 Q107.5,123.2 230.0,109.6"/><path d="M-10,146.2 Q107.5,132.0 230.0,120.3"/><path d="M-10,153.1 Q107.5,141.5 230.0,132.0"/><path d="M-10,158.8 Q107.5,149.4 230.0,141.6"/><path d="M-10,165.3 Q107.5,158.3 230.0,152.6"/><path d="M-10,171.9 Q107.5,167.5 230.0,163.8"/><path d="M-10,177.5 Q107.5,175.3 230.0,173.3"/><path d="M-10,184.8 Q107.5,185.3 230.0,185.7"/><path d="M-10,191.2 Q107.5,194.2 230.0,196.6"/><path d="M-10,199.2 Q107.5,205.3 230.0,210.2"/><path d="M-10,204.8 Q107.5,213.1 230.0,219.7"/><path d="M-10,210.4 Q107.5,220.7 230.0,229.1"/><path d="M-10,216.7 Q107.5,229.6 230.0,239.9"/><path d="M-10,224.2 Q107.5,239.9 230.0,252.5"/><path d="M-10,232.6 Q107.5,251.5 230.0,266.8"/><path d="M-10,236.4 Q107.5,256.8 230.0,273.2"/><path d="M-10,244.2 Q107.5,267.6 230.0,286.4"/><path d="M-10,251.7 Q107.5,277.9 230.0,299.1"/><path d="M-10,256.3 Q107.5,284.4 230.0,307.0"/><path d="M-10,264.9 Q107.5,296.2 230.0,321.5"/></g><g filter="url(#pig3)"><polygon points="12.0,112.8 53.4,106.5 104.0,103.4 114.0,112.0 104.0,120.6 53.4,132.9 12.0,139.2" fill="#000" fill-opacity="0.41"/><polygon points="12.0,113.5 43.0,108.7 81.0,106.8 91.0,115.5 81.0,124.2 43.0,133.8 12.0,138.5" fill="#000" fill-opacity="0.38"/><polygon points="12.0,114.8 30.6,111.9 53.4,111.5 63.4,119.7 53.4,127.9 30.6,134.4 12.0,137.2" fill="#000" fill-opacity="0.38"/><polygon points="-5.0,163.6 51.2,162.7 120.0,167.4 130.0,176.0 120.0,184.6 51.2,191.5 -5.0,192.4" fill="#000" fill-opacity="0.48"/><polygon points="-5.0,164.3 37.2,163.6 88.8,167.6 98.8,176.5 88.8,185.4 37.2,191.0 -5.0,191.7" fill="#000" fill-opacity="0.44"/><polygon points="-5.0,165.8 20.3,165.4 51.2,168.4 61.2,177.1 51.2,185.8 20.3,189.8 -5.0,190.2" fill="#000" fill-opacity="0.44"/><polygon points="16.0,228.6 53.8,225.4 100.0,225.4 110.0,236.0 100.0,246.6 53.8,254.2 16.0,257.4" fill="#000" fill-opacity="0.39"/><polygon points="16.0,229.3 44.4,227.0 79.0,227.5 89.0,237.8 79.0,248.0 44.4,254.3 16.0,256.7" fill="#000" fill-opacity="0.35"/><polygon points="16.0,230.8 33.0,229.3 53.8,230.4 63.8,239.8 53.8,249.3 33.0,253.8 16.0,255.2" fill="#000" fill-opacity="0.35"/></g><g filter="url(#spf3)"><polygon points="100.0,160.0 170.0,150.0 175.0,195.0 100.0,195.0" fill="#000"/><polygon points="110.0,95.0 205.0,70.0 210.0,110.0 110.0,125.0" fill="#000"/><polygon points="100.0,200.0 205.0,240.0 205.0,300.0 100.0,260.0" fill="#000"/></g></g><rect x="305.5" y="0" width="2.5" height="334" fill="#8a8a8a" opacity="0.6"/><polygon points="103.6,67.2 168.9,43.8 213.0,43.8 215.0,55.7 219.7,57.6 217.8,69.0 219.7,78.7 212.0,90.2 207.3,107.5 191.9,119.0 168.9,145.9 168.9,157.4 161.2,168.9 167.0,180.4 172.7,197.7 170.8,203.4 189.0,216.9 190.0,230.3 200.5,235.1 201.5,247.6 207.3,255.2 206.3,262.9 211.1,276.4 208.2,287.9 212.0,299.4 208.2,310.9 199.6,316.7 184.2,315.7 180.4,319.5 98.8,290.8" fill="none" stroke="#4fe04f" stroke-width="1.4" stroke-linejoin="round"/><text x="36.5" y="311" font-size="20.8" font-weight="bold" textLength="57.5" lengthAdjust="spacingAndGlyphs" stroke="#fff" stroke-width="2.2" stroke-opacity="0.55" paint-order="stroke" stroke-linejoin="round">5 DPA</text><line x1="39.3" y1="323.5" x2="176.6" y2="323.5" stroke="#fff" stroke-opacity="0.5" stroke-width="3"/><line x1="39.3" y1="322.5" x2="176.6" y2="322.5" stroke="#111" stroke-width="1.7"/></g></g><g transform="translate(1413,5)"><g clip-path="url(#clipP)"><rect width="308" height="334" fill="url(#p15bg0)"/><g fill="#b9b9b9" opacity="0.7"><ellipse cx="288" cy="65" rx="7" ry="22"/><ellipse cx="282" cy="110" rx="6" ry="14"/><ellipse cx="250" cy="130" rx="22" ry="14"/><ellipse cx="262" cy="175" rx="14" ry="10"/><ellipse cx="296" cy="150" rx="6" ry="12"/><ellipse cx="300" cy="215" rx="10" ry="14"/><ellipse cx="225" cy="150" rx="10" ry="16"/><ellipse cx="20" cy="48" rx="8" ry="14"/><ellipse cx="88" cy="44" rx="12" ry="12"/></g><path d="M-5.0,77.0 L97.9,54.7 L233.2,20.7 L245.6,24.0 L257.2,23.0 L270.6,30.7 L274.4,38.4 L272.5,51.8 L262.9,59.5 L259.1,72.9 L241.8,80.6 L236.0,92.1 L215.9,98.8 L193.8,119.0 L191.9,128.6 L180.4,136.3 L179.4,147.8 L174.6,153.5 L180.4,163.1 L191.9,184.2 L211.1,201.5 L236.0,238.0 L253.3,253.3 L265.8,286.0 L262.9,305.1 L249.5,309.0 L218.8,309.0 L103.6,269.6 L-5.0,240.0 Z" fill="#9c9c9c" fill-opacity="0.3" stroke="#2a2a2a" stroke-opacity="0.5" stroke-width="1.2"/><g clip-path="url(#p15fc)" fill="none"><g stroke="#f6f6f6" stroke-width="2.2" stroke-opacity="0.22"><path d="M-10,82.0 Q132.5,49.8 280.0,23.7"/><path d="M-10,88.2 Q132.5,58.7 280.0,34.7"/><path d="M-10,94.5 Q132.5,67.7 280.0,46.0"/><path d="M-10,100.3 Q132.5,75.9 280.0,56.3"/><path d="M-10,105.4 Q132.5,83.2 280.0,65.4"/><path d="M-10,112.9 Q132.5,94.0 280.0,78.8"/><path d="M-10,119.6 Q132.5,103.6 280.0,90.8"/><path d="M-10,123.6 Q132.5,109.3 280.0,97.9"/><path d="M-10,130.0 Q132.5,118.4 280.0,109.3"/><path d="M-10,135.4 Q132.5,126.1 280.0,119.0"/><path d="M-10,142.0 Q132.5,135.6 280.0,130.7"/><path d="M-10,148.3 Q132.5,144.5 280.0,141.9"/><path d="M-10,154.3 Q132.5,153.2 280.0,152.7"/><path d="M-10,160.3 Q132.5,161.7 280.0,163.4"/><path d="M-10,167.1 Q132.5,171.5 280.0,175.5"/><path d="M-10,172.6 Q132.5,179.3 280.0,185.3"/><path d="M-10,178.4 Q132.5,187.6 280.0,195.7"/><path d="M-10,184.0 Q132.5,195.6 280.0,205.7"/><path d="M-10,189.3 Q132.5,203.1 280.0,215.1"/><path d="M-10,197.6 Q132.5,215.1 280.0,230.0"/><path d="M-10,203.0 Q132.5,222.7 280.0,239.5"/><path d="M-10,209.7 Q132.5,232.3 280.0,251.4"/><path d="M-10,214.4 Q132.5,239.0 280.0,259.9"/><path d="M-10,220.8 Q132.5,248.1 280.0,271.2"/><path d="M-10,225.7 Q132.5,255.2 280.0,280.1"/><path d="M-10,231.2 Q132.5,263.0 280.0,289.8"/><path d="M-10,239.1 Q132.5,274.4 280.0,304.0"/><path d="M-10,245.7 Q132.5,283.7 280.0,315.7"/></g><g stroke="#1a1a1a" stroke-width="1.1" stroke-opacity="0.55"><path d="M-10,77.6 Q132.5,45.4 280.0,19.3"/><path d="M-10,83.8 Q132.5,54.3 280.0,30.3"/><path d="M-10,90.1 Q132.5,63.3 280.0,41.6"/><path d="M-10,95.9 Q132.5,71.5 280.0,51.9"/><path d="M-10,101.0 Q132.5,78.8 280.0,61.0"/><path d="M-10,108.5 Q132.5,89.6 280.0,74.4"/><path d="M-10,115.2 Q132.5,99.2 280.0,86.4"/><path d="M-10,119.2 Q132.5,104.9 280.0,93.5"/><path d="M-10,125.6 Q132.5,114.0 280.0,104.9"/><path d="M-10,131.0 Q132.5,121.7 280.0,114.6"/><path d="M-10,137.6 Q132.5,131.2 280.0,126.3"/><path d="M-10,143.9 Q132.5,140.1 280.0,137.5"/><path d="M-10,149.9 Q132.5,148.8 280.0,148.3"/><path d="M-10,155.9 Q132.5,157.3 280.0,159.0"/><path d="M-10,162.7 Q132.5,167.1 280.0,171.1"/><path d="M-10,168.2 Q132.5,174.9 280.0,180.9"/><path d="M-10,174.0 Q132.5,183.2 280.0,191.3"/><path d="M-10,179.6 Q132.5,191.2 280.0,201.3"/><path d="M-10,184.9 Q132.5,198.7 280.0,210.7"/><path d="M-10,193.2 Q132.5,210.7 280.0,225.6"/><path d="M-10,198.6 Q132.5,218.3 280.0,235.1"/><path d="M-10,205.3 Q132.5,227.9 280.0,247.0"/><path d="M-10,210.0 Q132.5,234.6 280.0,255.5"/><path d="M-10,216.4 Q132.5,243.7 280.0,266.8"/><path d="M-10,221.3 Q132.5,250.8 280.0,275.7"/><path d="M-10,226.8 Q132.5,258.6 280.0,285.4"/><path d="M-10,234.7 Q132.5,270.0 280.0,299.6"/><path d="M-10,241.3 Q132.5,279.3 280.0,311.3"/></g><g stroke="#1a1a1a" stroke-width="0.9" stroke-opacity="0.30"><path d="M-10,79.6 Q132.5,47.4 280.0,21.3"/><path d="M-10,85.8 Q132.5,56.3 280.0,32.3"/><path d="M-10,92.1 Q132.5,65.3 280.0,43.6"/><path d="M-10,97.9 Q132.5,73.5 280.0,53.9"/><path d="M-10,103.0 Q132.5,80.8 280.0,63.0"/><path d="M-10,110.5 Q132.5,91.6 280.0,76.4"/><path d="M-10,117.2 Q132.5,101.2 280.0,88.4"/><path d="M-10,121.2 Q132.5,106.9 280.0,95.5"/><path d="M-10,127.6 Q132.5,116.0 280.0,106.9"/><path d="M-10,133.0 Q132.5,123.7 280.0,116.6"/><path d="M-10,139.6 Q132.5,133.2 280.0,128.3"/><path d="M-10,145.9 Q132.5,142.1 280.0,139.5"/><path d="M-10,151.9 Q132.5,150.8 280.0,150.3"/><path d="M-10,157.9 Q132.5,159.3 280.0,161.0"/><path d="M-10,164.7 Q132.5,169.1 280.0,173.1"/><path d="M-10,170.2 Q132.5,176.9 280.0,182.9"/><path d="M-10,176.0 Q132.5,185.2 280.0,193.3"/><path d="M-10,181.6 Q132.5,193.2 280.0,203.3"/><path d="M-10,186.9 Q132.5,200.7 280.0,212.7"/><path d="M-10,195.2 Q132.5,212.7 280.0,227.6"/><path d="M-10,200.6 Q132.5,220.3 280.0,237.1"/><path d="M-10,207.3 Q132.5,229.9 280.0,249.0"/><path d="M-10,212.0 Q132.5,236.6 280.0,257.5"/><path d="M-10,218.4 Q132.5,245.7 280.0,268.8"/><path d="M-10,223.3 Q132.5,252.8 280.0,277.7"/><path d="M-10,228.8 Q132.5,260.6 280.0,287.4"/><path d="M-10,236.7 Q132.5,272.0 280.0,301.6"/><path d="M-10,243.3 Q132.5,281.3 280.0,313.3"/></g><g filter="url(#pig4)"><polygon points="12.0,88.8 51.6,87.9 100.0,91.4 110.0,100.0 100.0,108.6 51.6,114.3 12.0,115.2" fill="#000" fill-opacity="0.43"/><polygon points="12.0,89.5 41.7,88.8 78.0,91.8 88.0,100.5 78.0,109.2 41.7,113.9 12.0,114.5" fill="#000" fill-opacity="0.39"/><polygon points="12.0,90.8 29.8,90.4 51.6,92.9 61.6,101.1 51.6,109.3 29.8,112.8 12.0,113.2" fill="#000" fill-opacity="0.39"/><polygon points="-5.0,145.6 53.5,144.7 125.0,150.3 135.0,158.0 125.0,165.7 53.5,173.5 -5.0,174.4" fill="#000" fill-opacity="0.51"/><polygon points="-5.0,146.3 38.9,145.6 92.5,150.3 102.5,158.5 92.5,166.7 38.9,173.0 -5.0,173.7" fill="#000" fill-opacity="0.46"/><polygon points="-5.0,147.8 21.3,147.4 53.5,150.8 63.5,159.1 53.5,167.4 21.3,171.8 -5.0,172.2" fill="#000" fill-opacity="0.46"/><polygon points="18.0,209.4 57.1,206.2 105.0,207.4 115.0,218.0 105.0,228.6 57.1,237.4 18.0,240.6" fill="#000" fill-opacity="0.40"/><polygon points="18.0,210.2 47.4,207.8 83.2,209.3 93.2,219.8 83.2,230.2 47.4,237.5 18.0,239.8" fill="#000" fill-opacity="0.36"/><polygon points="18.0,211.7 35.6,210.3 57.1,212.0 67.2,221.8 57.1,231.7 35.6,236.8 18.0,238.3" fill="#000" fill-opacity="0.36"/></g><g filter="url(#spf4)"><polygon points="120.0,145.0 180.0,145.0 180.0,170.0 120.0,170.0" fill="#000"/><polygon points="100.0,180.0 240.0,235.0 262.0,300.0 100.0,250.0" fill="#000"/><polygon points="100.0,60.0 260.0,30.0 260.0,70.0 100.0,100.0" fill="#000"/></g></g><polygon points="291.7,335.0 309.0,330.0 309.0,335.0" fill="#000"/><polygon points="97.9,54.7 233.2,20.7 245.6,24.0 257.2,23.0 270.6,30.7 274.4,38.4 272.5,51.8 262.9,59.5 259.1,72.9 241.8,80.6 236.0,92.1 215.9,98.8 193.8,119.0 191.9,128.6 180.4,136.3 179.4,147.8 174.6,153.5 180.4,163.1 191.9,184.2 211.1,201.5 236.0,238.0 253.3,253.3 265.8,286.0 262.9,305.1 249.5,309.0 218.8,309.0 103.6,269.6" fill="none" stroke="#4fe04f" stroke-width="1.4" stroke-linejoin="round"/><text x="29.7" y="305.1" font-size="20.8" font-weight="bold" textLength="69.1" lengthAdjust="spacingAndGlyphs" stroke="#fff" stroke-width="2.2" stroke-opacity="0.55" paint-order="stroke" stroke-linejoin="round">10 DPA</text><line x1="31.7" y1="323.5" x2="177.5" y2="323.5" stroke="#fff" stroke-opacity="0.5" stroke-width="3"/><line x1="31.7" y1="322.5" x2="177.5" y2="322.5" stroke="#111" stroke-width="1.7"/></g></g><g transform="translate(170,341)"><g clip-path="url(#clipP)"><rect width="308" height="334" fill="url(#p21bg0)"/><path d="M-5.0,80.0 L118.0,38.4 L191.9,23.0 L239.9,16.9 L276.3,18.2 L285.9,21.1 L286.9,28.8 L283.0,43.2 L266.7,55.7 L249.5,69.1 L230.3,82.5 L218.8,92.1 L203.4,97.9 L199.6,107.5 L182.3,122.8 L172.7,134.3 L168.9,145.9 L163.1,159.3 L167.0,168.9 L167.0,176.6 L174.6,184.2 L175.6,191.9 L193.8,209.2 L220.7,226.4 L249.5,238.0 L268.7,247.6 L297.4,257.2 L307.0,272.5 L305.1,287.9 L293.6,293.6 L249.5,301.3 L201.5,299.4 L115.1,282.1 L-5.0,244.0 Z" fill="#dcdcdc" fill-opacity="0.3" stroke="#2a2a2a" stroke-opacity="0.5" stroke-width="1.2"/><g clip-path="url(#p21fc)" fill="none"><g stroke="#f6f6f6" stroke-width="2.2" stroke-opacity="0.65"><path d="M-10,84.9 Q151.0,49.6 317.0,20.3"/><path d="M-10,88.9 Q151.0,55.3 317.0,27.3"/><path d="M-10,94.8 Q151.0,63.6 317.0,37.6"/><path d="M-10,100.8 Q151.0,72.0 317.0,47.9"/><path d="M-10,107.0 Q151.0,80.6 317.0,58.6"/><path d="M-10,113.2 Q151.0,89.3 317.0,69.4"/><path d="M-10,117.5 Q151.0,95.4 317.0,76.9"/><path d="M-10,123.9 Q151.0,104.5 317.0,88.1"/><path d="M-10,128.8 Q151.0,111.3 317.0,96.6"/><path d="M-10,135.8 Q151.0,121.2 317.0,108.8"/><path d="M-10,140.3 Q151.0,127.4 317.0,116.5"/><path d="M-10,145.5 Q151.0,134.7 317.0,125.5"/><path d="M-10,152.1 Q151.0,144.0 317.0,137.0"/><path d="M-10,159.1 Q151.0,153.8 317.0,149.1"/><path d="M-10,163.6 Q151.0,160.2 317.0,157.0"/><path d="M-10,168.2 Q151.0,166.6 317.0,165.0"/><path d="M-10,175.2 Q151.0,176.5 317.0,177.1"/><path d="M-10,180.6 Q151.0,184.1 317.0,186.6"/><path d="M-10,185.5 Q151.0,191.0 317.0,195.1"/><path d="M-10,191.9 Q151.0,200.0 317.0,206.2"/><path d="M-10,197.0 Q151.0,207.1 317.0,215.0"/><path d="M-10,203.6 Q151.0,216.4 317.0,226.5"/><path d="M-10,209.7 Q151.0,225.0 317.0,237.2"/><path d="M-10,214.8 Q151.0,232.2 317.0,246.0"/><path d="M-10,220.9 Q151.0,240.8 317.0,256.7"/><path d="M-10,226.5 Q151.0,248.6 317.0,266.3"/><path d="M-10,230.4 Q151.0,254.2 317.0,273.2"/><path d="M-10,236.4 Q151.0,262.5 317.0,283.5"/><path d="M-10,243.9 Q151.0,273.1 317.0,296.6"/><path d="M-10,249.5 Q151.0,281.0 317.0,306.4"/></g><g stroke="#1a1a1a" stroke-width="1.1" stroke-opacity="0.85"><path d="M-10,80.5 Q151.0,45.2 317.0,15.9"/><path d="M-10,84.5 Q151.0,50.9 317.0,22.9"/><path d="M-10,90.4 Q151.0,59.2 317.0,33.2"/><path d="M-10,96.4 Q151.0,67.6 317.0,43.5"/><path d="M-10,102.6 Q151.0,76.2 317.0,54.2"/><path d="M-10,108.8 Q151.0,84.9 317.0,65.0"/><path d="M-10,113.1 Q151.0,91.0 317.0,72.5"/><path d="M-10,119.5 Q151.0,100.1 317.0,83.7"/><path d="M-10,124.4 Q151.0,106.9 317.0,92.2"/><path d="M-10,131.4 Q151.0,116.8 317.0,104.4"/><path d="M-10,135.9 Q151.0,123.0 317.0,112.1"/><path d="M-10,141.1 Q151.0,130.3 317.0,121.1"/><path d="M-10,147.7 Q151.0,139.6 317.0,132.6"/><path d="M-10,154.7 Q151.0,149.4 317.0,144.7"/><path d="M-10,159.2 Q151.0,155.8 317.0,152.6"/><path d="M-10,163.8 Q151.0,162.2 317.0,160.6"/><path d="M-10,170.8 Q151.0,172.1 317.0,172.7"/><path d="M-10,176.2 Q151.0,179.7 317.0,182.2"/><path d="M-10,181.1 Q151.0,186.6 317.0,190.7"/><path d="M-10,187.5 Q151.0,195.6 317.0,201.8"/><path d="M-10,192.6 Q151.0,202.7 317.0,210.6"/><path d="M-10,199.2 Q151.0,212.0 317.0,222.1"/><path d="M-10,205.3 Q151.0,220.6 317.0,232.8"/><path d="M-10,210.4 Q151.0,227.8 317.0,241.6"/><path d="M-10,216.5 Q151.0,236.4 317.0,252.3"/><path d="M-10,222.1 Q151.0,244.2 317.0,261.9"/><path d="M-10,226.0 Q151.0,249.8 317.0,268.8"/><path d="M-10,232.0 Q151.0,258.1 317.0,279.1"/><path d="M-10,239.5 Q151.0,268.7 317.0,292.2"/><path d="M-10,245.1 Q151.0,276.6 317.0,302.0"/></g><g stroke="#1a1a1a" stroke-width="0.9" stroke-opacity="0.47"><path d="M-10,82.5 Q151.0,47.2 317.0,17.9"/><path d="M-10,86.5 Q151.0,52.9 317.0,24.9"/><path d="M-10,92.4 Q151.0,61.2 317.0,35.2"/><path d="M-10,98.4 Q151.0,69.6 317.0,45.5"/><path d="M-10,104.6 Q151.0,78.2 317.0,56.2"/><path d="M-10,110.8 Q151.0,86.9 317.0,67.0"/><path d="M-10,115.1 Q151.0,93.0 317.0,74.5"/><path d="M-10,121.5 Q151.0,102.1 317.0,85.7"/><path d="M-10,126.4 Q151.0,108.9 317.0,94.2"/><path d="M-10,133.4 Q151.0,118.8 317.0,106.4"/><path d="M-10,137.9 Q151.0,125.0 317.0,114.1"/><path d="M-10,143.1 Q151.0,132.3 317.0,123.1"/><path d="M-10,149.7 Q151.0,141.6 317.0,134.6"/><path d="M-10,156.7 Q151.0,151.4 317.0,146.7"/><path d="M-10,161.2 Q151.0,157.8 317.0,154.6"/><path d="M-10,165.8 Q151.0,164.2 317.0,162.6"/><path d="M-10,172.8 Q151.0,174.1 317.0,174.7"/><path d="M-10,178.2 Q151.0,181.7 317.0,184.2"/><path d="M-10,183.1 Q151.0,188.6 317.0,192.7"/><path d="M-10,189.5 Q151.0,197.6 317.0,203.8"/><path d="M-10,194.6 Q151.0,204.7 317.0,212.6"/><path d="M-10,201.2 Q151.0,214.0 317.0,224.1"/><path d="M-10,207.3 Q151.0,222.6 317.0,234.8"/><path d="M-10,212.4 Q151.0,229.8 317.0,243.6"/><path d="M-10,218.5 Q151.0,238.4 317.0,254.3"/><path d="M-10,224.1 Q151.0,246.2 317.0,263.9"/><path d="M-10,228.0 Q151.0,251.8 317.0,270.8"/><path d="M-10,234.0 Q151.0,260.1 317.0,281.1"/><path d="M-10,241.5 Q151.0,270.7 317.0,294.2"/><path d="M-10,247.1 Q151.0,278.6 317.0,304.0"/></g><g filter="url(#pig5)"><polygon points="-5.0,88.2 52.6,86.9 123.0,89.3 133.0,96.0 123.0,102.7 52.6,108.5 -5.0,109.8" fill="#000" fill-opacity="0.50"/><polygon points="-5.0,88.7 38.2,87.7 91.0,89.9 101.0,96.8 91.0,103.6 38.2,108.2 -5.0,109.3" fill="#000" fill-opacity="0.45"/><polygon points="-5.0,89.8 20.9,89.2 52.6,91.0 62.6,97.7 52.6,104.3 20.9,107.6 -5.0,108.2" fill="#000" fill-opacity="0.45"/><polygon points="150.0,91.8 173.8,91.3 203.0,93.2 213.0,98.0 203.0,102.8 173.8,105.8 150.0,106.2" fill="#000" fill-opacity="0.41"/><polygon points="150.0,92.2 167.9,91.8 189.8,93.5 199.8,98.2 189.8,103.0 167.9,105.5 150.0,105.8" fill="#000" fill-opacity="0.38"/><polygon points="150.0,92.9 160.7,92.7 173.8,94.0 183.8,98.5 173.8,103.1 160.7,104.9 150.0,105.1" fill="#000" fill-opacity="0.38"/><polygon points="-5.0,141.6 71.5,141.6 165.0,149.3 175.0,156.0 165.0,162.7 71.5,170.4 -5.0,170.4" fill="#000" fill-opacity="0.53"/><polygon points="-5.0,142.3 52.4,142.3 122.5,148.5 132.5,156.0 122.5,163.5 52.4,169.7 -5.0,169.7" fill="#000" fill-opacity="0.48"/><polygon points="-5.0,143.8 29.4,143.8 71.5,148.0 81.5,156.0 71.5,164.0 29.4,168.2 -5.0,168.2" fill="#000" fill-opacity="0.48"/><polygon points="-5.0,200.4 76.0,203.1 175.0,216.2 185.0,222.0 175.0,227.8 76.0,234.3 -5.0,231.6" fill="#000" fill-opacity="0.48"/><polygon points="-5.0,201.2 55.8,203.2 130.0,213.4 140.0,220.5 130.0,227.6 55.8,232.8 -5.0,230.8" fill="#000" fill-opacity="0.44"/><polygon points="-5.0,202.7 31.5,204.0 76.0,210.7 86.0,218.7 76.0,226.7 31.5,230.5 -5.0,229.3" fill="#000" fill-opacity="0.44"/></g><g filter="url(#spf5)"><polygon points="20.0,50.0 120.0,35.0 125.0,60.0 20.0,80.0" fill="#000"/><polygon points="120.0,45.0 280.0,25.0 280.0,60.0 120.0,75.0" fill="#000"/><polygon points="140.0,230.0 300.0,255.0 300.0,275.0 140.0,245.0" fill="#000"/></g></g><polygon points="118.0,38.4 191.9,23.0 239.9,16.9 276.3,18.2 285.9,21.1 286.9,28.8 283.0,43.2 266.7,55.7 249.5,69.1 230.3,82.5 218.8,92.1 203.4,97.9 199.6,107.5 182.3,122.8 172.7,134.3 168.9,145.9 163.1,159.3 167.0,168.9 167.0,176.6 174.6,184.2 175.6,191.9 193.8,209.2 220.7,226.4 249.5,238.0 268.7,247.6 297.4,257.2 307.0,272.5 305.1,287.9 293.6,293.6 249.5,301.3 201.5,299.4 115.1,282.1" fill="none" stroke="#4fe04f" stroke-width="1.4" stroke-linejoin="round"/><text x="10.6" y="313.8" font-size="20.8" font-weight="bold" textLength="155.4" lengthAdjust="spacingAndGlyphs" stroke="#fff" stroke-width="2.2" stroke-opacity="0.55" paint-order="stroke" stroke-linejoin="round">Pre-amputation</text><line x1="37.4" y1="323.4" x2="177.5" y2="323.4" stroke="#fff" stroke-opacity="0.5" stroke-width="3"/><line x1="37.4" y1="322.4" x2="177.5" y2="322.4" stroke="#111" stroke-width="1.7"/></g></g><g transform="translate(481,341)"><g clip-path="url(#clipP)"><rect width="308" height="334" fill="url(#p22bg0)"/><g fill="#a0a0a0" opacity="0.2" filter="url(#bl4)"><circle cx="198" cy="212" r="7.4"/><circle cx="286" cy="72" r="5.2"/><circle cx="182" cy="83" r="7.7"/><circle cx="179" cy="169" r="5.1"/><circle cx="204" cy="141" r="8.2"/><circle cx="250" cy="24" r="5.4"/><circle cx="182" cy="264" r="8.0"/><circle cx="279" cy="251" r="7.7"/><circle cx="300" cy="242" r="5.3"/><circle cx="286" cy="156" r="7.8"/></g><path d="M-5.0,87.0 L136.3,45.1 L133.0,100.0 L134.0,170.0 L136.5,299.4 L-5.0,244.0 Z" fill="#d0d0d0" fill-opacity="0.2" stroke="#2a2a2a" stroke-opacity="0.5" stroke-width="1.2"/><g clip-path="url(#p22fc)" fill="none"><g stroke="#f6f6f6" stroke-width="2.2" stroke-opacity="0.6"><path d="M-10,93.4 Q65.0,69.3 145.0,51.1"/><path d="M-10,98.1 Q65.0,75.6 145.0,58.6"/><path d="M-10,103.7 Q65.0,83.1 145.0,67.7"/><path d="M-10,110.2 Q65.0,91.8 145.0,78.1"/><path d="M-10,116.9 Q65.0,100.9 145.0,89.1"/><path d="M-10,123.6 Q65.0,109.9 145.0,99.9"/><path d="M-10,129.6 Q65.0,118.0 145.0,109.6"/><path d="M-10,137.2 Q65.0,128.2 145.0,121.9"/><path d="M-10,143.1 Q65.0,136.2 145.0,131.4"/><path d="M-10,148.7 Q65.0,143.7 145.0,140.4"/><path d="M-10,156.3 Q65.0,154.0 145.0,152.8"/><path d="M-10,161.1 Q65.0,160.5 145.0,160.6"/><path d="M-10,167.5 Q65.0,169.0 145.0,170.9"/><path d="M-10,174.3 Q65.0,178.2 145.0,181.9"/><path d="M-10,179.8 Q65.0,185.7 145.0,190.9"/><path d="M-10,186.2 Q65.0,194.2 145.0,201.1"/><path d="M-10,191.5 Q65.0,201.5 145.0,209.8"/><path d="M-10,198.4 Q65.0,210.7 145.0,220.9"/><path d="M-10,204.2 Q65.0,218.6 145.0,230.3"/><path d="M-10,212.7 Q65.0,230.0 145.0,244.0"/><path d="M-10,219.0 Q65.0,238.4 145.0,254.2"/><path d="M-10,224.5 Q65.0,245.9 145.0,263.1"/><path d="M-10,231.9 Q65.0,255.9 145.0,275.1"/><path d="M-10,236.7 Q65.0,262.3 145.0,282.8"/><path d="M-10,241.8 Q65.0,269.2 145.0,291.1"/><path d="M-10,249.5 Q65.0,279.5 145.0,303.5"/></g><g stroke="#1a1a1a" stroke-width="1.1" stroke-opacity="0.9"><path d="M-10,89.0 Q65.0,64.9 145.0,46.7"/><path d="M-10,93.7 Q65.0,71.2 145.0,54.2"/><path d="M-10,99.3 Q65.0,78.7 145.0,63.3"/><path d="M-10,105.8 Q65.0,87.4 145.0,73.7"/><path d="M-10,112.5 Q65.0,96.5 145.0,84.7"/><path d="M-10,119.2 Q65.0,105.5 145.0,95.5"/><path d="M-10,125.2 Q65.0,113.6 145.0,105.2"/><path d="M-10,132.8 Q65.0,123.8 145.0,117.5"/><path d="M-10,138.7 Q65.0,131.8 145.0,127.0"/><path d="M-10,144.3 Q65.0,139.3 145.0,136.0"/><path d="M-10,151.9 Q65.0,149.6 145.0,148.4"/><path d="M-10,156.7 Q65.0,156.1 145.0,156.2"/><path d="M-10,163.1 Q65.0,164.6 145.0,166.5"/><path d="M-10,169.9 Q65.0,173.8 145.0,177.5"/><path d="M-10,175.4 Q65.0,181.3 145.0,186.5"/><path d="M-10,181.8 Q65.0,189.8 145.0,196.7"/><path d="M-10,187.1 Q65.0,197.1 145.0,205.4"/><path d="M-10,194.0 Q65.0,206.3 145.0,216.5"/><path d="M-10,199.8 Q65.0,214.2 145.0,225.9"/><path d="M-10,208.3 Q65.0,225.6 145.0,239.6"/><path d="M-10,214.6 Q65.0,234.0 145.0,249.8"/><path d="M-10,220.1 Q65.0,241.5 145.0,258.7"/><path d="M-10,227.5 Q65.0,251.5 145.0,270.7"/><path d="M-10,232.3 Q65.0,257.9 145.0,278.4"/><path d="M-10,237.4 Q65.0,264.8 145.0,286.7"/><path d="M-10,245.1 Q65.0,275.1 145.0,299.1"/></g><g stroke="#1a1a1a" stroke-width="0.9" stroke-opacity="0.50"><path d="M-10,91.0 Q65.0,66.9 145.0,48.7"/><path d="M-10,95.7 Q65.0,73.2 145.0,56.2"/><path d="M-10,101.3 Q65.0,80.7 145.0,65.3"/><path d="M-10,107.8 Q65.0,89.4 145.0,75.7"/><path d="M-10,114.5 Q65.0,98.5 145.0,86.7"/><path d="M-10,121.2 Q65.0,107.5 145.0,97.5"/><path d="M-10,127.2 Q65.0,115.6 145.0,107.2"/><path d="M-10,134.8 Q65.0,125.8 145.0,119.5"/><path d="M-10,140.7 Q65.0,133.8 145.0,129.0"/><path d="M-10,146.3 Q65.0,141.3 145.0,138.0"/><path d="M-10,153.9 Q65.0,151.6 145.0,150.4"/><path d="M-10,158.7 Q65.0,158.1 145.0,158.2"/><path d="M-10,165.1 Q65.0,166.6 145.0,168.5"/><path d="M-10,171.9 Q65.0,175.8 145.0,179.5"/><path d="M-10,177.4 Q65.0,183.3 145.0,188.5"/><path d="M-10,183.8 Q65.0,191.8 145.0,198.7"/><path d="M-10,189.1 Q65.0,199.1 145.0,207.4"/><path d="M-10,196.0 Q65.0,208.3 145.0,218.5"/><path d="M-10,201.8 Q65.0,216.2 145.0,227.9"/><path d="M-10,210.3 Q65.0,227.6 145.0,241.6"/><path d="M-10,216.6 Q65.0,236.0 145.0,251.8"/><path d="M-10,222.1 Q65.0,243.5 145.0,260.7"/><path d="M-10,229.5 Q65.0,253.5 145.0,272.7"/><path d="M-10,234.3 Q65.0,259.9 145.0,280.4"/><path d="M-10,239.4 Q65.0,266.8 145.0,288.7"/><path d="M-10,247.1 Q65.0,277.1 145.0,301.1"/></g><g filter="url(#pig6)"><polygon points="4.0,95.2 62.5,93.4 134.0,93.4 144.0,102.0 134.0,110.6 62.5,115.0 4.0,116.8" fill="#000" fill-opacity="0.51"/><polygon points="4.0,95.7 47.9,94.4 101.5,94.8 111.5,103.0 101.5,111.2 47.9,114.9 4.0,116.3" fill="#000" fill-opacity="0.46"/><polygon points="4.0,96.8 30.3,96.0 62.5,96.9 72.5,104.2 62.5,111.5 30.3,114.4 4.0,115.2" fill="#000" fill-opacity="0.46"/><polygon points="-5.0,147.6 57.6,148.0 134.0,153.4 144.0,163.0 134.0,172.6 57.6,176.8 -5.0,176.4" fill="#000" fill-opacity="0.53"/><polygon points="-5.0,148.3 41.9,148.7 99.2,153.2 109.2,162.8 99.2,172.3 41.9,176.0 -5.0,175.7" fill="#000" fill-opacity="0.48"/><polygon points="-5.0,149.8 23.1,150.0 57.6,153.4 67.6,162.4 57.6,171.5 23.1,174.4 -5.0,174.2" fill="#000" fill-opacity="0.48"/><polygon points="-5.0,210.0 57.6,209.1 134.0,216.4 144.0,226.0 134.0,235.6 57.6,245.1 -5.0,246.0" fill="#000" fill-opacity="0.51"/><polygon points="-5.0,210.9 41.9,210.2 99.2,216.2 109.2,226.5 99.2,236.8 41.9,244.4 -5.0,245.1" fill="#000" fill-opacity="0.46"/><polygon points="-5.0,212.7 23.1,212.3 57.6,216.7 67.6,227.1 57.6,237.5 23.1,242.9 -5.0,243.3" fill="#000" fill-opacity="0.46"/></g></g><g fill="#b4b4b4" opacity="0.8"><ellipse cx="280" cy="105" rx="8" ry="4"/><ellipse cx="252" cy="128" rx="4" ry="3"/><ellipse cx="255" cy="140" rx="4" ry="2.5"/></g><text x="14.4" y="314.8" font-size="20.8" font-weight="bold" textLength="166" lengthAdjust="spacingAndGlyphs" stroke="#fff" stroke-width="2.2" stroke-opacity="0.55" paint-order="stroke" stroke-linejoin="round">Post-amputation</text><line x1="27.8" y1="323.4" x2="177.5" y2="323.4" stroke="#fff" stroke-opacity="0.5" stroke-width="3"/><line x1="27.8" y1="322.4" x2="177.5" y2="322.4" stroke="#111" stroke-width="1.7"/></g></g><g transform="translate(792,341)"><g clip-path="url(#clipP)"><rect width="308" height="334" fill="url(#p23bg0)"/><g fill="#a8a8a8" opacity="0.16" filter="url(#bl4)"><circle cx="225" cy="204" r="6.7"/><circle cx="173" cy="23" r="5.5"/><circle cx="193" cy="247" r="6.8"/><circle cx="245" cy="176" r="6.6"/><circle cx="173" cy="143" r="4.6"/><circle cx="293" cy="36" r="7.3"/><circle cx="162" cy="212" r="5.3"/><circle cx="214" cy="256" r="4.1"/><circle cx="160" cy="276" r="6.0"/><circle cx="164" cy="296" r="7.8"/><circle cx="168" cy="138" r="4.5"/><circle cx="199" cy="194" r="4.7"/><circle cx="260" cy="34" r="4.7"/><circle cx="279" cy="132" r="5.7"/></g><path d="M-5.0,87.0 L124.8,47.0 L121.0,315.0 L-5.0,272.5 Z" fill="#808080" fill-opacity="0.4" stroke="#2a2a2a" stroke-opacity="0.5" stroke-width="1.2"/><g clip-path="url(#p23fc)" fill="none"><g stroke="#f6f6f6" stroke-width="2.2" stroke-opacity="0.5"><path d="M-10,92.5 Q60.0,69.0 135.0,51.6"/><path d="M-10,99.9 Q60.0,78.3 135.0,62.3"/><path d="M-10,107.5 Q60.0,88.0 135.0,73.4"/><path d="M-10,116.0 Q60.0,98.7 135.0,85.8"/><path d="M-10,120.3 Q60.0,104.1 135.0,92.1"/><path d="M-10,128.5 Q60.0,114.4 135.0,104.0"/><path d="M-10,137.6 Q60.0,125.9 135.0,117.3"/><path d="M-10,142.5 Q60.0,132.1 135.0,124.4"/><path d="M-10,151.8 Q60.0,143.8 135.0,137.9"/><path d="M-10,159.3 Q60.0,153.2 135.0,148.8"/><path d="M-10,165.1 Q60.0,160.5 135.0,157.3"/><path d="M-10,173.9 Q60.0,171.7 135.0,170.2"/><path d="M-10,179.5 Q60.0,178.7 135.0,178.3"/><path d="M-10,189.2 Q60.0,191.0 135.0,192.5"/><path d="M-10,195.5 Q60.0,198.9 135.0,201.5"/><path d="M-10,204.2 Q60.0,209.9 135.0,214.3"/><path d="M-10,209.0 Q60.0,215.9 135.0,221.2"/><path d="M-10,216.0 Q60.0,224.8 135.0,231.5"/><path d="M-10,223.6 Q60.0,234.3 135.0,242.4"/><path d="M-10,232.2 Q60.0,245.2 135.0,255.0"/><path d="M-10,239.7 Q60.0,254.6 135.0,265.9"/><path d="M-10,245.6 Q60.0,262.1 135.0,274.6"/><path d="M-10,254.8 Q60.0,273.7 135.0,288.0"/><path d="M-10,261.6 Q60.0,282.2 135.0,297.8"/><path d="M-10,268.0 Q60.0,290.3 135.0,307.2"/><path d="M-10,276.8 Q60.0,301.5 135.0,320.1"/></g><g stroke="#1a1a1a" stroke-width="1.1" stroke-opacity="0.9"><path d="M-10,88.1 Q60.0,64.6 135.0,47.2"/><path d="M-10,95.5 Q60.0,73.9 135.0,57.9"/><path d="M-10,103.1 Q60.0,83.6 135.0,69.0"/><path d="M-10,111.6 Q60.0,94.3 135.0,81.4"/><path d="M-10,115.9 Q60.0,99.7 135.0,87.7"/><path d="M-10,124.1 Q60.0,110.0 135.0,99.6"/><path d="M-10,133.2 Q60.0,121.5 135.0,112.9"/><path d="M-10,138.1 Q60.0,127.7 135.0,120.0"/><path d="M-10,147.4 Q60.0,139.4 135.0,133.5"/><path d="M-10,154.9 Q60.0,148.8 135.0,144.4"/><path d="M-10,160.7 Q60.0,156.1 135.0,152.9"/><path d="M-10,169.5 Q60.0,167.3 135.0,165.8"/><path d="M-10,175.1 Q60.0,174.3 135.0,173.9"/><path d="M-10,184.8 Q60.0,186.6 135.0,188.1"/><path d="M-10,191.1 Q60.0,194.5 135.0,197.1"/><path d="M-10,199.8 Q60.0,205.5 135.0,209.9"/><path d="M-10,204.6 Q60.0,211.5 135.0,216.8"/><path d="M-10,211.6 Q60.0,220.4 135.0,227.1"/><path d="M-10,219.2 Q60.0,229.9 135.0,238.0"/><path d="M-10,227.8 Q60.0,240.8 135.0,250.6"/><path d="M-10,235.3 Q60.0,250.2 135.0,261.5"/><path d="M-10,241.2 Q60.0,257.7 135.0,270.2"/><path d="M-10,250.4 Q60.0,269.3 135.0,283.6"/><path d="M-10,257.2 Q60.0,277.8 135.0,293.4"/><path d="M-10,263.6 Q60.0,285.9 135.0,302.8"/><path d="M-10,272.4 Q60.0,297.1 135.0,315.7"/></g><g stroke="#1a1a1a" stroke-width="0.9" stroke-opacity="0.50"><path d="M-10,90.1 Q60.0,66.6 135.0,49.2"/><path d="M-10,97.5 Q60.0,75.9 135.0,59.9"/><path d="M-10,105.1 Q60.0,85.6 135.0,71.0"/><path d="M-10,113.6 Q60.0,96.3 135.0,83.4"/><path d="M-10,117.9 Q60.0,101.7 135.0,89.7"/><path d="M-10,126.1 Q60.0,112.0 135.0,101.6"/><path d="M-10,135.2 Q60.0,123.5 135.0,114.9"/><path d="M-10,140.1 Q60.0,129.7 135.0,122.0"/><path d="M-10,149.4 Q60.0,141.4 135.0,135.5"/><path d="M-10,156.9 Q60.0,150.8 135.0,146.4"/><path d="M-10,162.7 Q60.0,158.1 135.0,154.9"/><path d="M-10,171.5 Q60.0,169.3 135.0,167.8"/><path d="M-10,177.1 Q60.0,176.3 135.0,175.9"/><path d="M-10,186.8 Q60.0,188.6 135.0,190.1"/><path d="M-10,193.1 Q60.0,196.5 135.0,199.1"/><path d="M-10,201.8 Q60.0,207.5 135.0,211.9"/><path d="M-10,206.6 Q60.0,213.5 135.0,218.8"/><path d="M-10,213.6 Q60.0,222.4 135.0,229.1"/><path d="M-10,221.2 Q60.0,231.9 135.0,240.0"/><path d="M-10,229.8 Q60.0,242.8 135.0,252.6"/><path d="M-10,237.3 Q60.0,252.2 135.0,263.5"/><path d="M-10,243.2 Q60.0,259.7 135.0,272.2"/><path d="M-10,252.4 Q60.0,271.3 135.0,285.6"/><path d="M-10,259.2 Q60.0,279.8 135.0,295.4"/><path d="M-10,265.6 Q60.0,287.9 135.0,304.8"/><path d="M-10,274.4 Q60.0,299.1 135.0,317.7"/></g><g filter="url(#pig7)"><polygon points="-5.0,98.8 54.4,97.0 127.0,99.4 137.0,108.0 127.0,116.6 54.4,123.4 -5.0,125.2" fill="#000" fill-opacity="0.51"/><polygon points="-5.0,99.5 39.6,98.1 94.0,100.3 104.0,109.0 94.0,117.7 39.6,123.2 -5.0,124.5" fill="#000" fill-opacity="0.46"/><polygon points="-5.0,100.8 21.7,100.0 54.4,102.0 64.4,110.2 54.4,118.4 21.7,122.4 -5.0,123.2" fill="#000" fill-opacity="0.46"/><polygon points="-5.0,156.4 51.7,156.4 121.0,161.4 131.0,172.0 121.0,182.6 51.7,187.6 -5.0,187.6" fill="#000" fill-opacity="0.53"/><polygon points="-5.0,157.2 37.5,157.2 89.5,161.5 99.5,172.0 89.5,182.5 37.5,186.8 -5.0,186.8" fill="#000" fill-opacity="0.48"/><polygon points="-5.0,158.7 20.5,158.7 51.7,162.1 61.7,172.0 51.7,181.9 20.5,185.3 -5.0,185.3" fill="#000" fill-opacity="0.48"/><polygon points="-5.0,219.6 53.5,217.8 125.0,223.5 135.0,236.0 125.0,248.5 53.5,258.6 -5.0,260.4" fill="#000" fill-opacity="0.51"/><polygon points="-5.0,220.6 38.9,219.3 92.5,224.2 102.5,237.0 92.5,249.8 38.9,258.0 -5.0,259.4" fill="#000" fill-opacity="0.46"/><polygon points="-5.0,222.7 21.3,221.8 53.5,225.8 63.5,238.2 53.5,250.6 21.3,256.5 -5.0,257.3" fill="#000" fill-opacity="0.46"/></g></g><path d="M3.8,3.8 Q18,22 25,28.8 Q40,38 53.7,37.4 L65.3,32.6" fill="none" stroke="#555" stroke-width="1.2"/><path d="M124.8,47 L136.3,49 L144,80.6 L141,119 L132.4,159.3 L130.5,174.7 L134.4,211 L138.2,253.4 L134.4,307 L127.6,314.8 L121,314.8 Z" fill="#9a9a9a" opacity="0.45"/><circle cx="140" cy="87" r="2.5" fill="#111"/><polygon points="236.0,335.0 309.0,317.7 309.0,335.0" fill="#000"/><polygon points="124.8,47.0 136.3,49.0 144.0,80.6 141.0,119.0 132.4,159.3 130.5,174.7 134.4,211.0 138.2,253.4 134.4,307.0 127.6,314.8 121.0,314.8 122.0,200.0 124.0,120.0" fill="none" stroke="#4fe04f" stroke-width="1.4" stroke-linejoin="round"/><text x="17.3" y="312.9" font-size="20.8" font-weight="bold" textLength="57.6" lengthAdjust="spacingAndGlyphs" stroke="#fff" stroke-width="2.2" stroke-opacity="0.55" paint-order="stroke" stroke-linejoin="round">1 DPA</text><line x1="27.8" y1="323.4" x2="176.6" y2="323.4" stroke="#fff" stroke-opacity="0.5" stroke-width="3"/><line x1="27.8" y1="322.4" x2="176.6" y2="322.4" stroke="#111" stroke-width="1.7"/></g></g><g transform="translate(1103,341)"><g clip-path="url(#clipP)"><rect width="308" height="334" fill="url(#p24bg0)"/><path d="M-5.0,81.0 L105.6,39.3 L172.7,15.4 L211.1,19.2 L215.0,28.8 L225.5,38.4 L220.7,49.9 L225.5,65.3 L222.6,74.9 L225.5,84.5 L216.9,94.0 L215.0,105.6 L203.4,115.2 L201.5,124.8 L190.0,134.4 L188.1,142.0 L174.6,155.5 L173.7,163.1 L177.5,182.3 L190.0,205.4 L191.9,211.1 L213.0,238.0 L215.0,243.8 L226.5,253.4 L229.4,263.0 L226.5,265.8 L240.9,280.2 L243.8,289.8 L241.8,303.3 L243.8,307.1 L235.1,312.9 L230.3,319.6 L191.9,326.3 L115.2,296.5 L-5.0,255.3 Z" fill="#9c9c9c" fill-opacity="0.3" stroke="#2a2a2a" stroke-opacity="0.5" stroke-width="1.2"/><g clip-path="url(#p24fc)" fill="none"><g stroke="#f6f6f6" stroke-width="2.2" stroke-opacity="0.22"><path d="M-10,85.1 Q117.5,47.5 250.0,16.0"/><path d="M-10,93.2 Q117.5,59.1 250.0,30.5"/><path d="M-10,99.9 Q117.5,68.7 250.0,42.6"/><path d="M-10,105.3 Q117.5,76.5 250.0,52.3"/><path d="M-10,112.6 Q117.5,86.9 250.0,65.4"/><path d="M-10,119.5 Q117.5,96.8 250.0,77.8"/><path d="M-10,126.5 Q117.5,106.7 250.0,90.2"/><path d="M-10,130.7 Q117.5,112.8 250.0,97.8"/><path d="M-10,137.1 Q117.5,121.9 250.0,109.3"/><path d="M-10,145.0 Q117.5,133.2 250.0,123.4"/><path d="M-10,150.6 Q117.5,141.3 250.0,133.5"/><path d="M-10,156.1 Q117.5,149.1 250.0,143.3"/><path d="M-10,163.3 Q117.5,159.5 250.0,156.4"/><path d="M-10,171.3 Q117.5,171.0 250.0,170.7"/><path d="M-10,176.1 Q117.5,177.8 250.0,179.3"/><path d="M-10,182.7 Q117.5,187.2 250.0,191.0"/><path d="M-10,189.6 Q117.5,197.1 250.0,203.5"/><path d="M-10,195.4 Q117.5,205.4 250.0,213.9"/><path d="M-10,201.8 Q117.5,214.5 250.0,225.3"/><path d="M-10,209.6 Q117.5,225.7 250.0,239.3"/><path d="M-10,214.4 Q117.5,232.6 250.0,247.9"/><path d="M-10,221.0 Q117.5,242.0 250.0,259.8"/><path d="M-10,227.6 Q117.5,251.5 250.0,271.6"/><path d="M-10,233.9 Q117.5,260.5 250.0,282.9"/><path d="M-10,241.8 Q117.5,271.8 250.0,297.1"/><path d="M-10,246.7 Q117.5,278.8 250.0,305.9"/><path d="M-10,254.7 Q117.5,290.3 250.0,320.2"/><path d="M-10,260.1 Q117.5,297.9 250.0,329.8"/></g><g stroke="#1a1a1a" stroke-width="1.1" stroke-opacity="0.55"><path d="M-10,80.7 Q117.5,43.1 250.0,11.6"/><path d="M-10,88.8 Q117.5,54.7 250.0,26.1"/><path d="M-10,95.5 Q117.5,64.3 250.0,38.2"/><path d="M-10,100.9 Q117.5,72.1 250.0,47.9"/><path d="M-10,108.2 Q117.5,82.5 250.0,61.0"/><path d="M-10,115.1 Q117.5,92.4 250.0,73.4"/><path d="M-10,122.1 Q117.5,102.3 250.0,85.8"/><path d="M-10,126.3 Q117.5,108.4 250.0,93.4"/><path d="M-10,132.7 Q117.5,117.5 250.0,104.9"/><path d="M-10,140.6 Q117.5,128.8 250.0,119.0"/><path d="M-10,146.2 Q117.5,136.9 250.0,129.1"/><path d="M-10,151.7 Q117.5,144.7 250.0,138.9"/><path d="M-10,158.9 Q117.5,155.1 250.0,152.0"/><path d="M-10,166.9 Q117.5,166.6 250.0,166.3"/><path d="M-10,171.7 Q117.5,173.4 250.0,174.9"/><path d="M-10,178.3 Q117.5,182.8 250.0,186.6"/><path d="M-10,185.2 Q117.5,192.7 250.0,199.1"/><path d="M-10,191.0 Q117.5,201.0 250.0,209.5"/><path d="M-10,197.4 Q117.5,210.1 250.0,220.9"/><path d="M-10,205.2 Q117.5,221.3 250.0,234.9"/><path d="M-10,210.0 Q117.5,228.2 250.0,243.5"/><path d="M-10,216.6 Q117.5,237.6 250.0,255.4"/><path d="M-10,223.2 Q117.5,247.1 250.0,267.2"/><path d="M-10,229.5 Q117.5,256.1 250.0,278.5"/><path d="M-10,237.4 Q117.5,267.4 250.0,292.7"/><path d="M-10,242.3 Q117.5,274.4 250.0,301.5"/><path d="M-10,250.3 Q117.5,285.9 250.0,315.8"/><path d="M-10,255.7 Q117.5,293.5 250.0,325.4"/></g><g stroke="#1a1a1a" stroke-width="0.9" stroke-opacity="0.30"><path d="M-10,82.7 Q117.5,45.1 250.0,13.6"/><path d="M-10,90.8 Q117.5,56.7 250.0,28.1"/><path d="M-10,97.5 Q117.5,66.3 250.0,40.2"/><path d="M-10,102.9 Q117.5,74.1 250.0,49.9"/><path d="M-10,110.2 Q117.5,84.5 250.0,63.0"/><path d="M-10,117.1 Q117.5,94.4 250.0,75.4"/><path d="M-10,124.1 Q117.5,104.3 250.0,87.8"/><path d="M-10,128.3 Q117.5,110.4 250.0,95.4"/><path d="M-10,134.7 Q117.5,119.5 250.0,106.9"/><path d="M-10,142.6 Q117.5,130.8 250.0,121.0"/><path d="M-10,148.2 Q117.5,138.9 250.0,131.1"/><path d="M-10,153.7 Q117.5,146.7 250.0,140.9"/><path d="M-10,160.9 Q117.5,157.1 250.0,154.0"/><path d="M-10,168.9 Q117.5,168.6 250.0,168.3"/><path d="M-10,173.7 Q117.5,175.4 250.0,176.9"/><path d="M-10,180.3 Q117.5,184.8 250.0,188.6"/><path d="M-10,187.2 Q117.5,194.7 250.0,201.1"/><path d="M-10,193.0 Q117.5,203.0 250.0,211.5"/><path d="M-10,199.4 Q117.5,212.1 250.0,222.9"/><path d="M-10,207.2 Q117.5,223.3 250.0,236.9"/><path d="M-10,212.0 Q117.5,230.2 250.0,245.5"/><path d="M-10,218.6 Q117.5,239.6 250.0,257.4"/><path d="M-10,225.2 Q117.5,249.1 250.0,269.2"/><path d="M-10,231.5 Q117.5,258.1 250.0,280.5"/><path d="M-10,239.4 Q117.5,269.4 250.0,294.7"/><path d="M-10,244.3 Q117.5,276.4 250.0,303.5"/><path d="M-10,252.3 Q117.5,287.9 250.0,317.8"/><path d="M-10,257.7 Q117.5,295.5 250.0,327.4"/></g><g filter="url(#pig8)"><polygon points="-5.0,96.2 44.1,95.8 104.0,99.3 114.0,106.0 104.0,112.7 44.1,117.3 -5.0,117.8" fill="#000" fill-opacity="0.44"/><polygon points="-5.0,96.7 31.8,96.4 76.8,99.4 86.8,106.2 76.8,113.1 31.8,116.9 -5.0,117.3" fill="#000" fill-opacity="0.40"/><polygon points="-5.0,97.8 17.1,97.6 44.1,99.9 54.1,106.5 44.1,113.2 17.1,116.0 -5.0,116.2" fill="#000" fill-opacity="0.40"/><polygon points="-5.0,154.0 52.6,154.0 123.0,159.3 133.0,166.0 123.0,172.7 52.6,178.0 -5.0,178.0" fill="#000" fill-opacity="0.48"/><polygon points="-5.0,154.6 38.2,154.6 91.0,158.9 101.0,166.0 91.0,173.1 38.2,177.4 -5.0,177.4" fill="#000" fill-opacity="0.44"/><polygon points="-5.0,155.8 20.9,155.8 52.6,158.9 62.6,166.0 52.6,173.1 20.9,176.2 -5.0,176.2" fill="#000" fill-opacity="0.44"/><polygon points="-5.0,214.8 50.8,214.8 119.0,221.3 129.0,228.0 119.0,234.7 50.8,241.2 -5.0,241.2" fill="#000" fill-opacity="0.45"/><polygon points="-5.0,215.5 36.9,215.5 88.0,220.7 98.0,228.0 88.0,235.3 36.9,240.5 -5.0,240.5" fill="#000" fill-opacity="0.41"/><polygon points="-5.0,216.8 20.1,216.8 50.8,220.5 60.8,228.0 50.8,235.5 20.1,239.2 -5.0,239.2" fill="#000" fill-opacity="0.41"/></g><g filter="url(#spf8)"><polygon points="100.0,90.0 200.0,100.0 200.0,130.0 100.0,125.0" fill="#000"/><polygon points="100.0,150.0 175.0,150.0 180.0,185.0 100.0,185.0" fill="#000"/><polygon points="110.0,200.0 200.0,215.0 200.0,240.0 110.0,235.0" fill="#000"/></g></g><polygon points="105.6,39.3 172.7,15.4 211.1,19.2 215.0,28.8 225.5,38.4 220.7,49.9 225.5,65.3 222.6,74.9 225.5,84.5 216.9,94.0 215.0,105.6 203.4,115.2 201.5,124.8 190.0,134.4 188.1,142.0 174.6,155.5 173.7,163.1 177.5,182.3 190.0,205.4 191.9,211.1 213.0,238.0 215.0,243.8 226.5,253.4 229.4,263.0 226.5,265.8 240.9,280.2 243.8,289.8 241.8,303.3 243.8,307.1 235.1,312.9 230.3,319.6 191.9,326.3 115.2,296.5" fill="none" stroke="#4fe04f" stroke-width="1.4" stroke-linejoin="round"/><text x="36.5" y="309" font-size="20.8" font-weight="bold" textLength="57.5" lengthAdjust="spacingAndGlyphs" stroke="#fff" stroke-width="2.2" stroke-opacity="0.55" paint-order="stroke" stroke-linejoin="round">5 DPA</text><line x1="38.4" y1="323.4" x2="176.6" y2="323.4" stroke="#fff" stroke-opacity="0.5" stroke-width="3"/><line x1="38.4" y1="322.4" x2="176.6" y2="322.4" stroke="#111" stroke-width="1.7"/></g></g><g transform="translate(1413,341)"><g clip-path="url(#clipP)"><rect width="308" height="334" fill="url(#p25bg0)"/><path d="M-5.0,66.0 L101.7,35.5 L220.7,2.9 L230.3,5.8 L259.1,8.6 L262.9,13.4 L261.0,17.3 L266.8,25.0 L270.6,35.5 L262.9,48.0 L255.3,59.5 L251.4,65.3 L249.5,74.9 L238.0,80.6 L227.4,96.0 L213.0,105.6 L211.1,113.2 L203.4,122.8 L191.9,126.7 L176.6,144.0 L175.6,161.2 L180.4,168.9 L179.5,191.9 L190.0,199.6 L191.9,213.0 L201.5,222.6 L213.0,239.9 L225.5,249.5 L236.1,272.5 L247.6,276.4 L264.9,305.1 L262.9,316.7 L256.2,320.5 L249.5,330.1 L222.6,330.1 L89.2,280.2 L-5.0,234.0 Z" fill="#999" fill-opacity="0.3" stroke="#2a2a2a" stroke-opacity="0.5" stroke-width="1.2"/><g clip-path="url(#p25fc)" fill="none"><g stroke="#f6f6f6" stroke-width="2.2" stroke-opacity="0.22"><path d="M-10,71.1 Q130.0,36.9 275.0,8.7"/><path d="M-10,75.1 Q130.0,43.0 275.0,16.5"/><path d="M-10,82.9 Q130.0,54.8 275.0,31.8"/><path d="M-10,88.2 Q130.0,62.8 275.0,42.0"/><path d="M-10,92.7 Q130.0,69.6 275.0,50.8"/><path d="M-10,99.5 Q130.0,79.8 275.0,64.0"/><path d="M-10,105.6 Q130.0,89.0 275.0,75.9"/><path d="M-10,109.8 Q130.0,95.4 275.0,84.1"/><path d="M-10,117.8 Q130.0,107.4 275.0,99.6"/><path d="M-10,122.4 Q130.0,114.4 275.0,108.7"/><path d="M-10,128.8 Q130.0,124.1 275.0,121.1"/><path d="M-10,135.3 Q130.0,133.9 275.0,133.8"/><path d="M-10,140.6 Q130.0,141.9 275.0,144.1"/><path d="M-10,144.5 Q130.0,147.8 275.0,151.7"/><path d="M-10,150.7 Q130.0,157.1 275.0,163.7"/><path d="M-10,156.8 Q130.0,166.2 275.0,175.5"/><path d="M-10,161.9 Q130.0,173.9 275.0,185.5"/><path d="M-10,169.6 Q130.0,185.6 275.0,200.5"/><path d="M-10,175.7 Q130.0,194.8 275.0,212.4"/><path d="M-10,181.1 Q130.0,203.0 275.0,222.9"/><path d="M-10,186.7 Q130.0,211.3 275.0,233.7"/><path d="M-10,191.0 Q130.0,217.9 275.0,242.1"/><path d="M-10,198.7 Q130.0,229.4 275.0,257.1"/><path d="M-10,203.4 Q130.0,236.6 275.0,266.3"/><path d="M-10,210.4 Q130.0,247.1 275.0,279.9"/><path d="M-10,214.1 Q130.0,252.7 275.0,287.0"/><path d="M-10,222.1 Q130.0,264.8 275.0,302.6"/><path d="M-10,226.8 Q130.0,271.9 275.0,311.8"/><path d="M-10,233.6 Q130.0,282.1 275.0,325.0"/><path d="M-10,237.5 Q130.0,288.0 275.0,332.6"/></g><g stroke="#1a1a1a" stroke-width="1.1" stroke-opacity="0.55"><path d="M-10,66.7 Q130.0,32.5 275.0,4.3"/><path d="M-10,70.7 Q130.0,38.6 275.0,12.1"/><path d="M-10,78.5 Q130.0,50.4 275.0,27.4"/><path d="M-10,83.8 Q130.0,58.4 275.0,37.6"/><path d="M-10,88.3 Q130.0,65.2 275.0,46.4"/><path d="M-10,95.1 Q130.0,75.4 275.0,59.6"/><path d="M-10,101.2 Q130.0,84.6 275.0,71.5"/><path d="M-10,105.4 Q130.0,91.0 275.0,79.7"/><path d="M-10,113.4 Q130.0,103.0 275.0,95.2"/><path d="M-10,118.0 Q130.0,110.0 275.0,104.3"/><path d="M-10,124.4 Q130.0,119.7 275.0,116.7"/><path d="M-10,130.9 Q130.0,129.5 275.0,129.4"/><path d="M-10,136.2 Q130.0,137.5 275.0,139.7"/><path d="M-10,140.1 Q130.0,143.4 275.0,147.3"/><path d="M-10,146.3 Q130.0,152.7 275.0,159.3"/><path d="M-10,152.4 Q130.0,161.8 275.0,171.1"/><path d="M-10,157.5 Q130.0,169.5 275.0,181.1"/><path d="M-10,165.2 Q130.0,181.2 275.0,196.1"/><path d="M-10,171.3 Q130.0,190.4 275.0,208.0"/><path d="M-10,176.7 Q130.0,198.6 275.0,218.5"/><path d="M-10,182.3 Q130.0,206.9 275.0,229.3"/><path d="M-10,186.6 Q130.0,213.5 275.0,237.7"/><path d="M-10,194.3 Q130.0,225.0 275.0,252.7"/><path d="M-10,199.0 Q130.0,232.2 275.0,261.9"/><path d="M-10,206.0 Q130.0,242.7 275.0,275.5"/><path d="M-10,209.7 Q130.0,248.3 275.0,282.6"/><path d="M-10,217.7 Q130.0,260.4 275.0,298.2"/><path d="M-10,222.4 Q130.0,267.5 275.0,307.4"/><path d="M-10,229.2 Q130.0,277.7 275.0,320.6"/><path d="M-10,233.1 Q130.0,283.6 275.0,328.2"/></g><g stroke="#1a1a1a" stroke-width="0.9" stroke-opacity="0.30"><path d="M-10,68.7 Q130.0,34.5 275.0,6.3"/><path d="M-10,72.7 Q130.0,40.6 275.0,14.1"/><path d="M-10,80.5 Q130.0,52.4 275.0,29.4"/><path d="M-10,85.8 Q130.0,60.4 275.0,39.6"/><path d="M-10,90.3 Q130.0,67.2 275.0,48.4"/><path d="M-10,97.1 Q130.0,77.4 275.0,61.6"/><path d="M-10,103.2 Q130.0,86.6 275.0,73.5"/><path d="M-10,107.4 Q130.0,93.0 275.0,81.7"/><path d="M-10,115.4 Q130.0,105.0 275.0,97.2"/><path d="M-10,120.0 Q130.0,112.0 275.0,106.3"/><path d="M-10,126.4 Q130.0,121.7 275.0,118.7"/><path d="M-10,132.9 Q130.0,131.5 275.0,131.4"/><path d="M-10,138.2 Q130.0,139.5 275.0,141.7"/><path d="M-10,142.1 Q130.0,145.4 275.0,149.3"/><path d="M-10,148.3 Q130.0,154.7 275.0,161.3"/><path d="M-10,154.4 Q130.0,163.8 275.0,173.1"/><path d="M-10,159.5 Q130.0,171.5 275.0,183.1"/><path d="M-10,167.2 Q130.0,183.2 275.0,198.1"/><path d="M-10,173.3 Q130.0,192.4 275.0,210.0"/><path d="M-10,178.7 Q130.0,200.6 275.0,220.5"/><path d="M-10,184.3 Q130.0,208.9 275.0,231.3"/><path d="M-10,188.6 Q130.0,215.5 275.0,239.7"/><path d="M-10,196.3 Q130.0,227.0 275.0,254.7"/><path d="M-10,201.0 Q130.0,234.2 275.0,263.9"/><path d="M-10,208.0 Q130.0,244.7 275.0,277.5"/><path d="M-10,211.7 Q130.0,250.3 275.0,284.6"/><path d="M-10,219.7 Q130.0,262.4 275.0,300.2"/><path d="M-10,224.4 Q130.0,269.5 275.0,309.4"/><path d="M-10,231.2 Q130.0,279.7 275.0,322.6"/><path d="M-10,235.1 Q130.0,285.6 275.0,330.2"/></g><g filter="url(#pig9)"><polygon points="-5.0,82.4 40.5,82.9 96.0,87.2 106.0,93.0 96.0,98.8 40.5,102.0 -5.0,101.6" fill="#000" fill-opacity="0.43"/><polygon points="-5.0,82.9 29.1,83.2 70.8,86.8 80.8,92.8 70.8,98.7 29.1,101.5 -5.0,101.1" fill="#000" fill-opacity="0.39"/><polygon points="-5.0,83.8 15.5,84.0 40.5,86.7 50.5,92.5 40.5,98.2 15.5,100.4 -5.0,100.2" fill="#000" fill-opacity="0.39"/><polygon points="-5.0,134.8 49.0,135.7 115.0,144.2 125.0,150.0 115.0,155.8 49.0,162.1 -5.0,161.2" fill="#000" fill-opacity="0.48"/><polygon points="-5.0,135.5 35.5,136.1 85.0,142.9 95.0,149.5 85.0,156.1 35.5,161.2 -5.0,160.5" fill="#000" fill-opacity="0.44"/><polygon points="-5.0,136.8 19.3,137.2 49.0,141.8 59.0,148.9 49.0,156.0 19.3,159.6 -5.0,159.2" fill="#000" fill-opacity="0.44"/><polygon points="-5.0,189.4 42.2,192.6 100.0,205.3 110.0,212.0 100.0,218.7 42.2,223.8 -5.0,220.6" fill="#000" fill-opacity="0.43"/><polygon points="-5.0,190.2 30.4,192.5 73.8,202.5 83.8,210.2 73.8,218.0 30.4,222.2 -5.0,219.8" fill="#000" fill-opacity="0.39"/><polygon points="-5.0,191.7 16.3,193.2 42.2,199.7 52.2,208.2 42.2,216.6 16.3,219.7 -5.0,218.3" fill="#000" fill-opacity="0.39"/></g><g filter="url(#spf9)"><polygon points="140.0,85.0 230.0,85.0 230.0,125.0 140.0,125.0" fill="#000"/><polygon points="150.0,200.0 230.0,240.0 240.0,270.0 150.0,230.0" fill="#000"/><polygon points="100.0,40.0 200.0,25.0 200.0,50.0 100.0,60.0" fill="#000"/></g></g><polygon points="101.7,35.5 220.7,2.9 230.3,5.8 259.1,8.6 262.9,13.4 261.0,17.3 266.8,25.0 270.6,35.5 262.9,48.0 255.3,59.5 251.4,65.3 249.5,74.9 238.0,80.6 227.4,96.0 213.0,105.6 211.1,113.2 203.4,122.8 191.9,126.7 176.6,144.0 175.6,161.2 180.4,168.9 179.5,191.9 190.0,199.6 191.9,213.0 201.5,222.6 213.0,239.9 225.5,249.5 236.1,272.5 247.6,276.4 264.9,305.1 262.9,316.7 256.2,320.5 249.5,330.1 222.6,330.1 89.2,280.2" fill="none" stroke="#4fe04f" stroke-width="1.4" stroke-linejoin="round"/><text x="41.3" y="309" font-size="20.8" font-weight="bold" textLength="69.1" lengthAdjust="spacingAndGlyphs" stroke="#fff" stroke-width="2.2" stroke-opacity="0.55" paint-order="stroke" stroke-linejoin="round">10 DPA</text><line x1="44.1" y1="323.4" x2="177.5" y2="323.4" stroke="#fff" stroke-opacity="0.5" stroke-width="3"/><line x1="44.1" y1="322.4" x2="177.5" y2="322.4" stroke="#111" stroke-width="1.7"/></g></g>
<text x="5" y="57" font-size="63" font-weight="bold" textLength="32" lengthAdjust="spacingAndGlyphs">a</text><text x="140" y="241.5" font-size="47.6" transform="rotate(-90 140 241.5)" textLength="150.5" lengthAdjust="spacingAndGlyphs">Control</text><text x="144.5" y="611.5" font-size="47.6" transform="rotate(-90 144.5 611.5)" textLength="205.5" lengthAdjust="spacingAndGlyphs">Probiotics</text>
<text x="11.0" y="770.4" font-size="62" font-weight="bold" text-anchor="start" fill="#000">b</text><rect x="213.5" y="733.6" width="39.1" height="12.6" fill="#548235"/><rect x="266" y="733.6" width="39.0" height="12.6" fill="#548235"/><rect x="211.8" y="795.6" width="38.5" height="13" fill="#ff0000"/><rect x="263.8" y="795.6" width="39.5" height="13" fill="#ff0000"/><rect x="213.5" y="852.5" width="39.1" height="12.6" fill="#2e75b6"/><rect x="266" y="852.5" width="39.0" height="12.6" fill="#2e75b6"/><rect x="474.7" y="732.8" width="95.1" height="13.4" fill="#ff40ff"/><rect x="471.1" y="789.8" width="95.1" height="13.4" fill="#ffd966"/><text x="346.5" y="758.3" font-size="44" font-weight="bold" text-anchor="start" fill="#548235" textLength="82.0" lengthAdjust="spacingAndGlyphs">REG</text><text x="345.5" y="819.8" font-size="44" font-weight="bold" text-anchor="start" fill="#ff0000" textLength="80.5" lengthAdjust="spacingAndGlyphs">STU</text><text x="346.8" y="876.3" font-size="44" font-weight="bold" text-anchor="start" fill="#2e75b6" textLength="81.5" lengthAdjust="spacingAndGlyphs">PED</text><text x="608.8" y="758.3" font-size="44" font-weight="bold" text-anchor="start" fill="#ff40ff" textLength="85.0" lengthAdjust="spacingAndGlyphs">RAY</text><text x="606.6" y="818.9" font-size="44" font-weight="bold" text-anchor="start" fill="#ffd966" textLength="80.5" lengthAdjust="spacingAndGlyphs">SEG</text><defs>
<linearGradient id="pedg" x1="160" y1="0" x2="375" y2="0" gradientUnits="userSpaceOnUse">
<stop offset="0" stop-color="#46383b"/><stop offset="0.45" stop-color="#7d7680"/><stop offset="0.8" stop-color="#a3a0ad"/><stop offset="1" stop-color="#b0aebb"/></linearGradient>
<linearGradient id="vbm" x1="160" y1="0" x2="380" y2="0" gradientUnits="userSpaceOnUse">
<stop offset="0" stop-color="#fff"/><stop offset="0.6" stop-color="#fff"/><stop offset="0.75" stop-color="#777"/><stop offset="1" stop-color="#555"/></linearGradient>
<mask id="vbmask" maskUnits="userSpaceOnUse" x="150" y="990" width="240" height="300"><rect x="150" y="990" width="240" height="300" fill="url(#vbm)"/></mask>
<pattern id="vbp" x="0" y="0" width="8.2" height="100" patternUnits="userSpaceOnUse"><rect x="1" y="0" width="4.4" height="100" fill="#1c1c1c"/></pattern>
<clipPath id="pedclip"><path d="M159,1016 L271,1009.5 L335,998 Q413,1136 328,1275 L271,1266 L161,1262.5 Z"/></clipPath>
<clipPath id="finclip"><path id="finpath" d="M335,998 L362.5,992.5 L506.4,941.5 L597.6,904.7 L668.1,887 L715.1,881.9 L762.2,883.5 L804.5,901.2 L818.6,927 L813.9,950.5 L792.7,978.8 L762.2,1004.6 L703.4,1037.5 L668.1,1058.7 L644.6,1082.2 L629.3,1110.4 L627,1131.6 L632.8,1155.1 L651.6,1190.4 L679.9,1232.7 L715.1,1279.7 L750.4,1326.7 L773.9,1362 L782.7,1379.6 L783.3,1392.6 L776.2,1402.3 L753.5,1421.7 L721.1,1425 L656.3,1412 L591.5,1389.3 L526.8,1361.8 L508.9,1355.3 Q400,1290 329.2,1274.3 Q413,1136 335,998 Z"/></clipPath>
</defs><path d="M159,1016 L271,1009.5 L335,998 Q413,1136 328,1275 L271,1266 L161,1262.5 Z" fill="url(#pedg)"/><g clip-path="url(#pedclip)"><g mask="url(#vbmask)"><path d="M158,1034 Q270,1034 380,1024 L380,1051 Q270,1061 158,1061 Z" fill="url(#vbp)"/><path d="M158,1108 Q270,1108 380,1108 L380,1144 Q270,1144 158,1144 Z" fill="url(#vbp)"/><path d="M158,1204 Q270,1204 380,1210 L380,1235 Q270,1229 158,1229 Z" fill="url(#vbp)"/></g></g><use href="#finpath" fill="#b4b4b4"/><g clip-path="url(#finclip)" fill="none"><g stroke="#9a9a9a" stroke-width="4.5"><path d="M587.9,928.0 Q647.1,903.1 673.9,885.5"/><path d="M587.9,928.0 Q658.2,902.6 718.4,883.6"/><path d="M616.9,941.9 Q702.1,906.9 746.3,881.5"/><path d="M616.9,941.9 Q711.5,908.3 783.8,887.2"/><path d="M636.6,966.1 Q741.4,927.2 803.0,894.7"/><path d="M636.6,966.1 Q745.8,932.1 820.8,914.1"/><path d="M639.9,1001.1 Q750.8,964.2 824.0,928.9"/><path d="M639.9,1001.1 Q749.4,970.4 818.3,953.4"/><path d="M629.3,1034.0 Q733.3,1000.4 807.9,967.1"/><path d="M629.3,1034.0 Q726.8,1006.6 782.2,991.6"/><path d="M606.9,1071.2 Q692.7,1040.0 760.2,1006.3"/><path d="M606.9,1071.2 Q682.5,1046.6 719.5,1033.0"/><path d="M576.9,1107.3 Q637.0,1080.7 690.3,1049.5"/><path d="M576.9,1107.3 Q628.5,1088.9 656.3,1082.3"/><path d="M562.3,1147.5 Q606.6,1130.6 642.8,1104.9"/><path d="M562.3,1147.5 Q604.4,1138.1 633.9,1134.8"/><path d="M564.5,1177.0 Q607.9,1165.3 636.3,1147.8"/><path d="M564.5,1177.0 Q609.8,1170.9 643.9,1170.1"/><path d="M571.6,1206.8 Q620.9,1198.4 651.1,1183.2"/><path d="M571.6,1206.8 Q624.4,1204.1 665.1,1206.1"/><path d="M582.1,1237.3 Q640.4,1232.9 675.5,1219.9"/><path d="M582.1,1237.3 Q645.4,1239.6 695.5,1246.9"/><path d="M597.0,1273.6 Q668.3,1275.5 710.3,1265.1"/><path d="M597.0,1273.6 Q674.1,1283.3 733.8,1296.3"/><path d="M612.1,1309.0 Q697.2,1319.7 748.6,1315.4"/><path d="M612.1,1309.0 Q702.3,1327.7 769.3,1347.2"/><path d="M623.8,1342.4 Q720.0,1363.0 780.5,1366.4"/><path d="M623.8,1342.4 Q720.6,1370.0 783.0,1394.3"/><path d="M615.9,1372.4 Q708.4,1398.5 775.0,1408.7"/><path d="M615.9,1372.4 Q705.2,1404.5 762.3,1432.8"/></g><g stroke="#545454" stroke-width="6.5" stroke-dasharray="19 10"><path d="M587.9,928.0 Q647.1,903.1 673.9,885.5" stroke-dashoffset="0"/><path d="M587.9,928.0 Q658.2,902.6 718.4,883.6" stroke-dashoffset="13"/><path d="M616.9,941.9 Q702.1,906.9 746.3,881.5" stroke-dashoffset="7"/><path d="M616.9,941.9 Q711.5,908.3 783.8,887.2" stroke-dashoffset="20"/><path d="M636.6,966.1 Q741.4,927.2 803.0,894.7" stroke-dashoffset="14"/><path d="M636.6,966.1 Q745.8,932.1 820.8,914.1" stroke-dashoffset="27"/><path d="M639.9,1001.1 Q750.8,964.2 824.0,928.9" stroke-dashoffset="21"/><path d="M639.9,1001.1 Q749.4,970.4 818.3,953.4" stroke-dashoffset="4"/><path d="M629.3,1034.0 Q733.3,1000.4 807.9,967.1" stroke-dashoffset="28"/><path d="M629.3,1034.0 Q726.8,1006.6 782.2,991.6" stroke-dashoffset="11"/><path d="M606.9,1071.2 Q692.7,1040.0 760.2,1006.3" stroke-dashoffset="5"/><path d="M606.9,1071.2 Q682.5,1046.6 719.5,1033.0" stroke-dashoffset="18"/><path d="M576.9,1107.3 Q637.0,1080.7 690.3,1049.5" stroke-dashoffset="12"/><path d="M576.9,1107.3 Q628.5,1088.9 656.3,1082.3" stroke-dashoffset="25"/><path d="M562.3,1147.5 Q606.6,1130.6 642.8,1104.9" stroke-dashoffset="19"/><path d="M562.3,1147.5 Q604.4,1138.1 633.9,1134.8" stroke-dashoffset="2"/><path d="M564.5,1177.0 Q607.9,1165.3 636.3,1147.8" stroke-dashoffset="26"/><path d="M564.5,1177.0 Q609.8,1170.9 643.9,1170.1" stroke-dashoffset="9"/><path d="M571.6,1206.8 Q620.9,1198.4 651.1,1183.2" stroke-dashoffset="3"/><path d="M571.6,1206.8 Q624.4,1204.1 665.1,1206.1" stroke-dashoffset="16"/><path d="M582.1,1237.3 Q640.4,1232.9 675.5,1219.9" stroke-dashoffset="10"/><path d="M582.1,1237.3 Q645.4,1239.6 695.5,1246.9" stroke-dashoffset="23"/><path d="M597.0,1273.6 Q668.3,1275.5 710.3,1265.1" stroke-dashoffset="17"/><path d="M597.0,1273.6 Q674.1,1283.3 733.8,1296.3" stroke-dashoffset="0"/><path d="M612.1,1309.0 Q697.2,1319.7 748.6,1315.4" stroke-dashoffset="24"/><path d="M612.1,1309.0 Q702.3,1327.7 769.3,1347.2" stroke-dashoffset="7"/><path d="M623.8,1342.4 Q720.0,1363.0 780.5,1366.4" stroke-dashoffset="1"/><path d="M623.8,1342.4 Q720.6,1370.0 783.0,1394.3" stroke-dashoffset="14"/><path d="M615.9,1372.4 Q708.4,1398.5 775.0,1408.7" stroke-dashoffset="8"/><path d="M615.9,1372.4 Q705.2,1404.5 762.3,1432.8" stroke-dashoffset="21"/></g><g stroke="#404040" stroke-width="7" stroke-dasharray="22 10" stroke-dashoffset="6"><path d="M516.0,953.8 Q551.5,941.7 587.9,928.0"/><path d="M516.0,977.8 Q565.9,961.1 616.9,941.9"/><path d="M516.0,1003.9 Q575.5,986.3 636.6,966.1"/><path d="M516.0,1034.4 Q577.2,1019.3 639.9,1001.1"/><path d="M516.0,1062.8 Q572.0,1050.3 629.3,1034.0"/><path d="M516.0,1095.5 Q561.1,1085.8 606.9,1071.2"/><path d="M516.0,1126.0 Q546.3,1119.0 576.9,1107.3"/><path d="M516.0,1156.6 Q538.9,1153.6 562.3,1147.5"/><path d="M516.0,1182.7 Q539.8,1181.2 564.5,1177.0"/><path d="M516.0,1208.9 Q543.3,1209.2 571.6,1206.8"/><path d="M516.0,1235.0 Q548.3,1237.5 582.1,1237.3"/><path d="M516.0,1263.4 Q555.6,1269.7 597.0,1273.6"/><path d="M516.0,1289.6 Q563.0,1300.2 612.1,1309.0"/><path d="M516.0,1313.5 Q568.8,1328.3 623.8,1342.4"/><path d="M516.0,1339.7 Q565.0,1356.0 615.9,1372.4"/></g><g stroke="#2e2e2e" stroke-width="7.5" stroke-dasharray="24 11"><path d="M333.7,1010.4 Q428.8,977.6 516.0,953.8"/><path d="M342.2,1028.4 Q433.1,999.0 516.0,977.8"/><path d="M349.3,1046.3 Q436.7,1021.7 516.0,1003.9"/><path d="M355.1,1064.3 Q439.5,1047.0 516.0,1034.4"/><path d="M359.4,1082.3 Q441.7,1071.0 516.0,1062.8"/><path d="M362.4,1100.3 Q443.2,1097.5 516.0,1095.5"/><path d="M364.0,1118.2 Q444.0,1122.7 516.0,1126.0"/><path d="M364.2,1137.6 Q444.1,1148.6 516.0,1156.6"/><path d="M363.0,1155.6 Q443.5,1171.3 516.0,1182.7"/><path d="M360.3,1173.7 Q442.2,1194.1 516.0,1208.9"/><path d="M356.3,1191.7 Q440.2,1216.8 516.0,1235.0"/><path d="M350.9,1209.7 Q437.5,1240.9 516.0,1263.4"/><path d="M344.2,1227.8 Q434.1,1263.6 516.0,1289.6"/><path d="M336.1,1245.8 Q430.0,1285.1 516.0,1313.5"/><path d="M326.5,1263.9 Q425.3,1307.9 516.0,1339.7"/></g></g><path d="M159,1016 L271,1009.5 L335,998 L362.5,992.5 L506.4,941.5" fill="none" stroke="#000" stroke-width="4.5"/><path d="M161,1262.5 L271,1266 L329.2,1274.3 Q400,1290 508.9,1355.3" fill="none" stroke="#000" stroke-width="4.5"/><path d="M335,998 Q413,1136 328,1275" fill="none" stroke="#111" stroke-width="4.5"/><path d="M506.4,941.5 L597.6,904.7 L668.1,887 L715.1,881.9 L762.2,883.5 L804.5,901.2 L818.6,927 L813.9,950.5 L792.7,978.8 L762.2,1004.6 L703.4,1037.5 L668.1,1058.7 L644.6,1082.2 L629.3,1110.4 L627,1131.6 L632.8,1155.1 L651.6,1190.4 L679.9,1232.7 L715.1,1279.7 L750.4,1326.7 L773.9,1362 L782.7,1379.6 L783.3,1392.6 L776.2,1402.3 L753.5,1421.7 L721.1,1425 L656.3,1412 L591.5,1389.3 L526.8,1361.8 L508.9,1355.3" fill="none" stroke="#000" stroke-width="5" stroke-linejoin="round"/><path d="M506.4,941.5 L597.6,904.7 L668.1,887 L715.1,881.9 L762.2,883.5 L804.5,901.2 L818.6,927 L813.9,950.5 L792.7,978.8 L762.2,1004.6 L703.4,1037.5 L668.1,1058.7 L644.6,1082.2 L629.3,1110.4 L627,1131.6 L632.8,1155.1 L651.6,1190.4 L679.9,1232.7 L715.1,1279.7 L750.4,1326.7 L773.9,1362 L782.7,1379.6 L783.3,1392.6 L776.2,1402.3 L753.5,1421.7 L721.1,1425 L656.3,1412 L591.5,1389.3 L526.8,1361.8 L508.9,1355.3" fill="none" stroke="#53b040" stroke-width="7.5" stroke-dasharray="3.6 3.6"/><line x1="327.9" y1="998" x2="327.9" y2="1274" stroke="#3b8fd9" stroke-width="4.5" stroke-dasharray="3 2.2"/><line x1="507.7" y1="941" x2="507.7" y2="1356" stroke="#c9302c" stroke-width="5" stroke-dasharray="3 2.2"/><line x1="515.5" y1="941" x2="515.5" y2="1359" stroke="#5cb546" stroke-width="5" stroke-dasharray="4 3"/><line x1="521" y1="1011.5" x2="546" y2="1005" stroke="#f2c21b" stroke-width="4"/><line x1="546" y1="1005" x2="552.5" y2="1003.3" stroke="#d63fbf" stroke-width="4.5"/>
<text x="928.0" y="771.0" font-size="63" font-weight="bold" text-anchor="start" fill="#000">c</text><line x1="1070.0" y1="773.5" x2="1702.0" y2="773.5" stroke="#e4e4e4" stroke-width="1"/><line x1="1701.8" y1="773.0" x2="1701.8" y2="1347.0" stroke="#cfcfcf" stroke-width="1.6"/><line x1="1070.5" y1="772.0" x2="1070.5" y2="1349.0" stroke="#000" stroke-width="3"/><line x1="1069.0" y1="1347.6" x2="1703.0" y2="1347.6" stroke="#000" stroke-width="3"/><line x1="1065.5" y1="807.4" x2="1070.0" y2="807.4" stroke="#000" stroke-width="2"/><text x="1061.5" y="817.2" font-size="27.4" font-weight="bold" text-anchor="end" fill="#000">110.0</text><line x1="1065.5" y1="914.4" x2="1070.0" y2="914.4" stroke="#000" stroke-width="2"/><text x="1061.5" y="924.2" font-size="27.4" font-weight="bold" text-anchor="end" fill="#000">107.5</text><line x1="1065.5" y1="1021.4" x2="1070.0" y2="1021.4" stroke="#000" stroke-width="2"/><text x="1061.5" y="1031.2" font-size="27.4" font-weight="bold" text-anchor="end" fill="#000">105.0</text><line x1="1065.5" y1="1128.4" x2="1070.0" y2="1128.4" stroke="#000" stroke-width="2"/><text x="1061.5" y="1138.2" font-size="27.4" font-weight="bold" text-anchor="end" fill="#000">102.5</text><line x1="1065.5" y1="1235.4" x2="1070.0" y2="1235.4" stroke="#000" stroke-width="2"/><text x="1061.5" y="1245.2" font-size="27.4" font-weight="bold" text-anchor="end" fill="#000">100.0</text><line x1="1065.5" y1="1342.4" x2="1070.0" y2="1342.4" stroke="#000" stroke-width="2"/><text x="1061.5" y="1352.2" font-size="27.4" font-weight="bold" text-anchor="end" fill="#000">97.5</text><line x1="1242.5" y1="1348.0" x2="1242.5" y2="1353.0" stroke="#000" stroke-width="2"/><line x1="1530.0" y1="1348.0" x2="1530.0" y2="1353.0" stroke="#000" stroke-width="2"/><text x="1242.5" y="1376.8" font-size="27.6" font-weight="bold" text-anchor="middle" fill="#000" textLength="93.0" lengthAdjust="spacingAndGlyphs">control</text><text x="1530.3" y="1376.8" font-size="27.6" font-weight="bold" text-anchor="middle" fill="#000" textLength="133.5" lengthAdjust="spacingAndGlyphs">probiotics</text><text x="962.5" y="1057.9" font-size="34" font-weight="bold" text-anchor="middle" fill="#000" textLength="255.0" lengthAdjust="spacingAndGlyphs" transform="rotate(-90 962.5 1057.9)">% Regeneration</text><text x="1112.0" y="811.5" font-size="33.5" font-weight="normal" text-anchor="start" fill="#000" textLength="249.0" lengthAdjust="spacingAndGlyphs">T-test, p = 0.032</text><line x1="1242.2" y1="1193.0" x2="1242.2" y2="1235.4" stroke="#22834e" stroke-width="2"/><line x1="1242.2" y1="1299.6" x2="1242.2" y2="1321.5" stroke="#22834e" stroke-width="2"/><rect x="1185.0" y="1235.4" width="115.3" height="64.2" fill="#a9d3be" stroke="#22834e" stroke-width="2.2"/><line x1="1185.0" y1="1278.6" x2="1300.3" y2="1278.6" stroke="#22834e" stroke-width="3.6"/><circle cx="1208.1" cy="1204.3" r="7.2" fill="#5fab84" fill-opacity="0.6"/><circle cx="1240.0" cy="1227.3" r="7.2" fill="#5fab84" fill-opacity="0.6"/><circle cx="1252.5" cy="1221.0" r="7.2" fill="#5fab84" fill-opacity="0.6"/><circle cx="1214.3" cy="1274.6" r="7.2" fill="#5fab84" fill-opacity="0.6"/><circle cx="1312.8" cy="1266.6" r="7.2" fill="#5fab84" fill-opacity="0.6"/><circle cx="1199.4" cy="1312.0" r="7.2" fill="#5fab84" fill-opacity="0.6"/><circle cx="1195.6" cy="1316.5" r="7.2" fill="#5fab84" fill-opacity="0.6"/><line x1="1529.8" y1="807.4" x2="1529.8" y2="871.0" stroke="#d4a832" stroke-width="2"/><line x1="1529.8" y1="914.4" x2="1529.8" y2="935.2" stroke="#d4a832" stroke-width="2"/><rect x="1472.0" y="871.0" width="115.3" height="43.4" fill="#eddfab" stroke="#d4a832" stroke-width="2.2"/><line x1="1472.0" y1="892.8" x2="1587.3" y2="892.8" stroke="#d4a832" stroke-width="3.6"/><circle cx="1485.2" cy="799.4" r="7.2" fill="#dcc070" fill-opacity="0.6"/><circle cx="1531.2" cy="837.7" r="7.2" fill="#dcc070" fill-opacity="0.6"/><circle cx="1509.0" cy="898.3" r="7.2" fill="#dcc070" fill-opacity="0.6"/><circle cx="1521.7" cy="899.3" r="7.2" fill="#dcc070" fill-opacity="0.6"/><circle cx="1507.4" cy="908.4" r="7.2" fill="#dcc070" fill-opacity="0.6"/><circle cx="1591.8" cy="939.2" r="7.2" fill="#dcc070" fill-opacity="0.6"/><circle cx="1502.3" cy="949.1" r="7.2" fill="#dcc070" fill-opacity="0.6"/><text x="20.5" y="1481.5" font-size="62" font-weight="bold" text-anchor="start" fill="#000">d</text><rect x="109.0" y="1492.5" width="348.5" height="31.0" fill="#fff" stroke="#000" stroke-width="2"/><rect x="466.5" y="1492.5" width="348.0" height="31.0" fill="#fff" stroke="#000" stroke-width="2"/><text x="283.2" y="1517.5" font-size="23" font-weight="bold" text-anchor="middle" fill="#000" textLength="89.5" lengthAdjust="spacingAndGlyphs">5 DPA</text><text x="640.8" y="1517.6" font-size="23" font-weight="bold" text-anchor="middle" fill="#000" textLength="106.0" lengthAdjust="spacingAndGlyphs">10 DPA</text><text x="166.0" y="1550.4" font-size="25.6" font-weight="normal" text-anchor="start" fill="#000" textLength="188.5" lengthAdjust="spacingAndGlyphs">T-test, p = 0.41</text><text x="523.4" y="1550.6" font-size="25.6" font-weight="normal" text-anchor="start" fill="#000" textLength="191.0" lengthAdjust="spacingAndGlyphs">T-test, p = 0.19</text><line x1="108.3" y1="1523.0" x2="108.3" y2="1885.5" stroke="#000" stroke-width="3"/><line x1="107.0" y1="1884.0" x2="458.6" y2="1884.0" stroke="#000" stroke-width="3"/><line x1="464.7" y1="1884.0" x2="815.5" y2="1884.0" stroke="#000" stroke-width="3"/><line x1="104.0" y1="1869.6" x2="108.0" y2="1869.6" stroke="#000" stroke-width="2"/><text x="100.5" y="1877.6" font-size="22" font-weight="bold" text-anchor="end" fill="#000" textLength="13.0" lengthAdjust="spacingAndGlyphs">2</text><line x1="104.0" y1="1760.2" x2="108.0" y2="1760.2" stroke="#000" stroke-width="2"/><text x="100.5" y="1768.2" font-size="22" font-weight="bold" text-anchor="end" fill="#000" textLength="13.0" lengthAdjust="spacingAndGlyphs">3</text><line x1="104.0" y1="1650.8" x2="108.0" y2="1650.8" stroke="#000" stroke-width="2"/><text x="100.5" y="1658.8" font-size="22" font-weight="bold" text-anchor="end" fill="#000" textLength="13.0" lengthAdjust="spacingAndGlyphs">4</text><line x1="104.0" y1="1541.4" x2="108.0" y2="1541.4" stroke="#000" stroke-width="2"/><text x="100.5" y="1549.4" font-size="22" font-weight="bold" text-anchor="end" fill="#000" textLength="13.0" lengthAdjust="spacingAndGlyphs">5</text><line x1="203.8" y1="1885.0" x2="203.8" y2="1889.0" stroke="#000" stroke-width="2"/><line x1="362.6" y1="1885.0" x2="362.6" y2="1889.0" stroke="#000" stroke-width="2"/><line x1="560.6" y1="1885.0" x2="560.6" y2="1889.0" stroke="#000" stroke-width="2"/><line x1="719.6" y1="1885.0" x2="719.6" y2="1889.0" stroke="#000" stroke-width="2"/><text x="203.7" y="1907.8" font-size="25.3" font-weight="bold" text-anchor="middle" fill="#000" textLength="85.5" lengthAdjust="spacingAndGlyphs">control</text><text x="362.9" y="1907.8" font-size="25.3" font-weight="bold" text-anchor="middle" fill="#000" textLength="121.5" lengthAdjust="spacingAndGlyphs">probiotics</text><text x="560.6" y="1907.8" font-size="25.3" font-weight="bold" text-anchor="middle" fill="#000" textLength="85.5" lengthAdjust="spacingAndGlyphs">control</text><text x="719.6" y="1907.8" font-size="25.3" font-weight="bold" text-anchor="middle" fill="#000" textLength="121.5" lengthAdjust="spacingAndGlyphs">probiotics</text><text x="59.6" y="1704.7" font-size="31.5" font-weight="bold" text-anchor="middle" fill="#000" textLength="207.0" lengthAdjust="spacingAndGlyphs" transform="rotate(-90 59.6 1704.7)">Mean REG/PED</text><line x1="203.8" y1="1798.0" x2="203.8" y2="1814.1" stroke="#22834e" stroke-width="1.4"/><line x1="203.8" y1="1855.1" x2="203.8" y2="1866.0" stroke="#22834e" stroke-width="1.4"/><rect x="144.2" y="1814.1" width="119.5" height="41.0" fill="#98c9ad" stroke="#22834e" stroke-width="1.2"/><line x1="144.2" y1="1845.1" x2="263.7" y2="1845.1" stroke="#22834e" stroke-width="2.2"/><line x1="164.2" y1="1836.5" x2="243.6" y2="1836.5" stroke="#22834e" stroke-width="3"/><circle cx="210.7" cy="1798.1" r="4.3" fill="#6aaf8a" fill-opacity="0.7"/><circle cx="197.8" cy="1806.4" r="4.3" fill="#6aaf8a" fill-opacity="0.7"/><circle cx="203.8" cy="1837.4" r="4.3" fill="#6aaf8a" fill-opacity="0.7"/><circle cx="207.8" cy="1852.0" r="4.3" fill="#6aaf8a" fill-opacity="0.7"/><circle cx="211.5" cy="1853.1" r="4.3" fill="#6aaf8a" fill-opacity="0.7"/><circle cx="209.2" cy="1856.8" r="4.3" fill="#6aaf8a" fill-opacity="0.7"/><circle cx="199.8" cy="1868.3" r="4.3" fill="#6aaf8a" fill-opacity="0.7"/><line x1="362.6" y1="1807.0" x2="362.6" y2="1811.0" stroke="#d1a83a" stroke-width="1.4"/><line x1="362.6" y1="1837.4" x2="362.6" y2="1862.9" stroke="#d1a83a" stroke-width="1.4"/><rect x="302.7" y="1811.0" width="119.5" height="26.4" fill="#ead597" stroke="#d1a83a" stroke-width="1.2"/><line x1="302.7" y1="1824.7" x2="422.2" y2="1824.7" stroke="#d1a83a" stroke-width="2.2"/><line x1="323.0" y1="1821.3" x2="402.1" y2="1821.3" stroke="#d1a83a" stroke-width="3"/><circle cx="357.4" cy="1767.1" r="4.3" fill="#e2c676" fill-opacity="0.7"/><circle cx="361.7" cy="1767.1" r="4.3" fill="#e2c676" fill-opacity="0.7"/><circle cx="359.1" cy="1807.5" r="4.3" fill="#e2c676" fill-opacity="0.7"/><circle cx="368.3" cy="1821.6" r="4.3" fill="#e2c676" fill-opacity="0.7"/><circle cx="361.7" cy="1828.2" r="4.3" fill="#e2c676" fill-opacity="0.7"/><circle cx="364.0" cy="1828.2" r="4.3" fill="#e2c676" fill-opacity="0.7"/><circle cx="357.7" cy="1840.5" r="4.3" fill="#e2c676" fill-opacity="0.7"/><circle cx="360.6" cy="1862.9" r="4.3" fill="#e2c676" fill-opacity="0.7"/><line x1="560.6" y1="1674.6" x2="560.6" y2="1711.6" stroke="#22834e" stroke-width="2"/><line x1="560.6" y1="1741.2" x2="560.6" y2="1755.5" stroke="#22834e" stroke-width="2"/><rect x="501.1" y="1711.6" width="119.3" height="29.6" fill="#98c9ad" stroke="#22834e" stroke-width="1.6"/><line x1="501.1" y1="1740.4" x2="620.4" y2="1740.4" stroke="#22834e" stroke-width="2.4"/><line x1="520.9" y1="1725.9" x2="600.4" y2="1725.9" stroke="#22834e" stroke-width="3"/><circle cx="556.5" cy="1674.1" r="4.3" fill="#6aaf8a" fill-opacity="0.7"/><circle cx="560.6" cy="1702.6" r="4.3" fill="#6aaf8a" fill-opacity="0.7"/><circle cx="559.8" cy="1736.3" r="4.3" fill="#6aaf8a" fill-opacity="0.7"/><circle cx="555.7" cy="1741.2" r="4.3" fill="#6aaf8a" fill-opacity="0.7"/><circle cx="564.7" cy="1739.0" r="4.3" fill="#6aaf8a" fill-opacity="0.7"/><circle cx="562.8" cy="1755.5" r="4.3" fill="#6aaf8a" fill-opacity="0.7"/><line x1="719.6" y1="1617.0" x2="719.6" y2="1650.0" stroke="#d1a83a" stroke-width="1.4"/><line x1="719.6" y1="1737.7" x2="719.6" y2="1744.5" stroke="#d1a83a" stroke-width="1.4"/><rect x="659.6" y="1650.0" width="119.8" height="87.7" fill="#ead597" stroke="#d1a83a" stroke-width="1.2"/><line x1="659.6" y1="1692.4" x2="779.4" y2="1692.4" stroke="#d1a83a" stroke-width="2.2"/><line x1="680.1" y1="1689.2" x2="758.8" y2="1689.2" stroke="#d1a83a" stroke-width="3"/><circle cx="722.9" cy="1617.6" r="4.3" fill="#e2c676" fill-opacity="0.7"/><circle cx="723.7" cy="1644.5" r="4.3" fill="#e2c676" fill-opacity="0.7"/><circle cx="711.9" cy="1665.3" r="4.3" fill="#e2c676" fill-opacity="0.7"/><circle cx="712.8" cy="1720.7" r="4.3" fill="#e2c676" fill-opacity="0.7"/><circle cx="716.3" cy="1720.7" r="4.3" fill="#e2c676" fill-opacity="0.7"/><circle cx="712.2" cy="1743.7" r="4.3" fill="#e2c676" fill-opacity="0.7"/><circle cx="713.3" cy="1745.3" r="4.3" fill="#e2c676" fill-opacity="0.7"/><text x="914.5" y="1482.0" font-size="62" font-weight="bold" text-anchor="start" fill="#000">e</text><rect x="1029.4" y="1492.2" width="337.2" height="31.3" fill="#fff" stroke="#000" stroke-width="2"/><rect x="1375.4" y="1492.2" width="337.8" height="31.3" fill="#fff" stroke="#000" stroke-width="2"/><text x="1197.9" y="1517.7" font-size="23" font-weight="bold" text-anchor="middle" fill="#000" textLength="89.0" lengthAdjust="spacingAndGlyphs">5 DPA</text><text x="1544.6" y="1517.8" font-size="23" font-weight="bold" text-anchor="middle" fill="#000" textLength="106.0" lengthAdjust="spacingAndGlyphs">10 DPA</text><text x="1079.3" y="1549.8" font-size="25.6" font-weight="normal" text-anchor="start" fill="#000" textLength="207.5" lengthAdjust="spacingAndGlyphs">T-test, p = 0.036</text><text x="1426.0" y="1550.0" font-size="25.6" font-weight="normal" text-anchor="start" fill="#000" textLength="207.5" lengthAdjust="spacingAndGlyphs">T-test, p = 0.036</text><line x1="1028.0" y1="1523.0" x2="1028.0" y2="1885.5" stroke="#000" stroke-width="3"/><line x1="1026.5" y1="1884.0" x2="1367.8" y2="1884.0" stroke="#000" stroke-width="3"/><line x1="1373.4" y1="1884.0" x2="1714.7" y2="1884.0" stroke="#000" stroke-width="3"/><line x1="1023.5" y1="1756.2" x2="1028.0" y2="1756.2" stroke="#000" stroke-width="2"/><text x="1020.5" y="1764.2" font-size="22" font-weight="bold" text-anchor="end" fill="#000" textLength="34.5" lengthAdjust="spacingAndGlyphs">1.5</text><line x1="1023.5" y1="1621.3" x2="1028.0" y2="1621.3" stroke="#000" stroke-width="2"/><text x="1020.5" y="1629.3" font-size="22" font-weight="bold" text-anchor="end" fill="#000" textLength="34.5" lengthAdjust="spacingAndGlyphs">2.0</text><line x1="1120.7" y1="1885.0" x2="1120.7" y2="1889.0" stroke="#000" stroke-width="2"/><line x1="1274.7" y1="1885.0" x2="1274.7" y2="1889.0" stroke="#000" stroke-width="2"/><line x1="1466.7" y1="1885.0" x2="1466.7" y2="1889.0" stroke="#000" stroke-width="2"/><line x1="1620.8" y1="1885.0" x2="1620.8" y2="1889.0" stroke="#000" stroke-width="2"/><text x="1120.4" y="1907.6" font-size="25.3" font-weight="bold" text-anchor="middle" fill="#000" textLength="85.5" lengthAdjust="spacingAndGlyphs">control</text><text x="1274.6" y="1907.6" font-size="25.3" font-weight="bold" text-anchor="middle" fill="#000" textLength="122.0" lengthAdjust="spacingAndGlyphs">probiotics</text><text x="1466.9" y="1907.6" font-size="25.3" font-weight="bold" text-anchor="middle" fill="#000" textLength="85.5" lengthAdjust="spacingAndGlyphs">control</text><text x="1620.8" y="1907.6" font-size="25.3" font-weight="bold" text-anchor="middle" fill="#000" textLength="122.0" lengthAdjust="spacingAndGlyphs">probiotics</text><text x="958.1" y="1706.7" font-size="30.8" font-weight="bold" text-anchor="middle" fill="#000" textLength="212.5" lengthAdjust="spacingAndGlyphs" transform="rotate(-90 958.1 1706.7)">Mean REG/STU</text><line x1="1120.7" y1="1774.0" x2="1120.7" y2="1813.8" stroke="#22834e" stroke-width="1.4"/><line x1="1120.7" y1="1859.8" x2="1120.7" y2="1865.9" stroke="#22834e" stroke-width="1.4"/><rect x="1062.6" y="1813.8" width="116.2" height="46.0" fill="#98c9ad" stroke="#22834e" stroke-width="1.2"/><line x1="1062.6" y1="1830.8" x2="1178.8" y2="1830.8" stroke="#22834e" stroke-width="2.2"/><line x1="1082.3" y1="1830.2" x2="1159.0" y2="1830.2" stroke="#22834e" stroke-width="3"/><circle cx="1124.8" cy="1774.0" r="4.3" fill="#6aaf8a" fill-opacity="0.7"/><circle cx="1120.7" cy="1812.4" r="4.3" fill="#6aaf8a" fill-opacity="0.7"/><circle cx="1122.0" cy="1817.9" r="4.3" fill="#6aaf8a" fill-opacity="0.7"/><circle cx="1120.7" cy="1843.9" r="4.3" fill="#6aaf8a" fill-opacity="0.7"/><circle cx="1124.0" cy="1843.9" r="4.3" fill="#6aaf8a" fill-opacity="0.7"/><circle cx="1119.3" cy="1864.5" r="4.3" fill="#6aaf8a" fill-opacity="0.7"/><circle cx="1121.5" cy="1867.8" r="4.3" fill="#6aaf8a" fill-opacity="0.7"/><line x1="1274.7" y1="1780.3" x2="1274.7" y2="1780.3" stroke="#d1a83a" stroke-width="1.4"/><line x1="1274.7" y1="1796.8" x2="1274.7" y2="1816.5" stroke="#d1a83a" stroke-width="1.4"/><rect x="1216.6" y="1780.3" width="116.0" height="16.5" fill="#ead597" stroke="#d1a83a" stroke-width="1.2"/><line x1="1216.6" y1="1786.4" x2="1332.6" y2="1786.4" stroke="#d1a83a" stroke-width="2.2"/><line x1="1235.8" y1="1787.7" x2="1312.6" y2="1787.7" stroke="#d1a83a" stroke-width="3"/><circle cx="1276.9" cy="1756.2" r="4.3" fill="#e2c676" fill-opacity="0.7"/><circle cx="1271.4" cy="1779.5" r="4.3" fill="#e2c676" fill-opacity="0.7"/><circle cx="1281.0" cy="1784.4" r="4.3" fill="#e2c676" fill-opacity="0.7"/><circle cx="1276.9" cy="1789.6" r="4.3" fill="#e2c676" fill-opacity="0.7"/><circle cx="1279.7" cy="1800.0" r="4.3" fill="#e2c676" fill-opacity="0.7"/><circle cx="1268.1" cy="1816.5" r="4.3" fill="#e2c676" fill-opacity="0.7"/><line x1="1466.7" y1="1618.4" x2="1466.7" y2="1651.9" stroke="#22834e" stroke-width="1.4"/><line x1="1466.7" y1="1693.2" x2="1466.7" y2="1709.0" stroke="#22834e" stroke-width="1.4"/><rect x="1409.4" y="1651.9" width="115.2" height="41.3" fill="#98c9ad" stroke="#22834e" stroke-width="1.2"/><line x1="1409.4" y1="1682.1" x2="1524.6" y2="1682.1" stroke="#22834e" stroke-width="2.2"/><line x1="1429.0" y1="1672.0" x2="1505.5" y2="1672.0" stroke="#22834e" stroke-width="3"/><circle cx="1466.7" cy="1618.4" r="4.3" fill="#6aaf8a" fill-opacity="0.7"/><circle cx="1472.3" cy="1642.3" r="4.3" fill="#6aaf8a" fill-opacity="0.7"/><circle cx="1468.5" cy="1680.1" r="4.3" fill="#6aaf8a" fill-opacity="0.7"/><circle cx="1466.0" cy="1680.1" r="4.3" fill="#6aaf8a" fill-opacity="0.7"/><circle cx="1462.7" cy="1685.1" r="4.3" fill="#6aaf8a" fill-opacity="0.7"/><circle cx="1470.5" cy="1695.7" r="4.3" fill="#6aaf8a" fill-opacity="0.7"/><circle cx="1471.8" cy="1709.0" r="4.3" fill="#6aaf8a" fill-opacity="0.7"/><line x1="1620.8" y1="1573.0" x2="1620.8" y2="1584.5" stroke="#d1a83a" stroke-width="1.4"/><line x1="1620.8" y1="1645.6" x2="1620.8" y2="1673.3" stroke="#d1a83a" stroke-width="1.4"/><rect x="1563.4" y="1584.5" width="115.3" height="61.1" fill="#ead597" stroke="#d1a83a" stroke-width="1.2"/><line x1="1563.4" y1="1620.2" x2="1678.7" y2="1620.2" stroke="#d1a83a" stroke-width="2.2"/><line x1="1583.0" y1="1619.2" x2="1659.8" y2="1619.2" stroke="#d1a83a" stroke-width="3"/><circle cx="1618.8" cy="1572.6" r="4.3" fill="#e2c676" fill-opacity="0.7"/><circle cx="1617.5" cy="1579.4" r="4.3" fill="#e2c676" fill-opacity="0.7"/><circle cx="1625.0" cy="1600.3" r="4.3" fill="#e2c676" fill-opacity="0.7"/><circle cx="1627.6" cy="1600.3" r="4.3" fill="#e2c676" fill-opacity="0.7"/><circle cx="1623.3" cy="1641.1" r="4.3" fill="#e2c676" fill-opacity="0.7"/><circle cx="1623.8" cy="1648.1" r="4.3" fill="#e2c676" fill-opacity="0.7"/><circle cx="1624.6" cy="1673.3" r="4.3" fill="#e2c676" fill-opacity="0.7"/><text x="22.0" y="1990.2" font-size="62" font-weight="bold" text-anchor="start" fill="#000">f</text><rect x="112.8" y="1977.5" width="693.6" height="49.3" fill="#fff" stroke="#000" stroke-width="2.6"/><text x="460.2" y="2017.4" font-size="37" font-weight="normal" text-anchor="middle" fill="#000" textLength="130.0" lengthAdjust="spacingAndGlyphs">10 DPA</text><text x="261.4" y="2051.0" font-size="25.6" font-weight="normal" text-anchor="start" fill="#000" textLength="206.0" lengthAdjust="spacingAndGlyphs">T-test, p = 0.014</text><line x1="112.4" y1="2032.5" x2="112.4" y2="2431.0" stroke="#000" stroke-width="3"/><line x1="111.0" y1="2429.5" x2="809.3" y2="2429.5" stroke="#000" stroke-width="3"/><line x1="108.0" y1="2314.3" x2="112.0" y2="2314.3" stroke="#000" stroke-width="2"/><text x="106.0" y="2321.9" font-size="21.5" font-weight="bold" text-anchor="end" fill="#000" textLength="27.8" lengthAdjust="spacingAndGlyphs">80</text><line x1="108.0" y1="2184.4" x2="112.0" y2="2184.4" stroke="#000" stroke-width="2"/><text x="106.0" y="2192.0" font-size="21.5" font-weight="bold" text-anchor="end" fill="#000" textLength="27.8" lengthAdjust="spacingAndGlyphs">85</text><line x1="108.0" y1="2054.5" x2="112.0" y2="2054.5" stroke="#000" stroke-width="2"/><text x="106.0" y="2062.1" font-size="21.5" font-weight="bold" text-anchor="end" fill="#000" textLength="27.8" lengthAdjust="spacingAndGlyphs">90</text><line x1="302.2" y1="2431.0" x2="302.2" y2="2435.0" stroke="#000" stroke-width="2"/><line x1="619.0" y1="2431.0" x2="619.0" y2="2435.0" stroke="#000" stroke-width="2"/><text x="302.1" y="2451.5" font-size="25.3" font-weight="bold" text-anchor="middle" fill="#000" textLength="85.5" lengthAdjust="spacingAndGlyphs">control</text><text x="618.7" y="2451.5" font-size="25.3" font-weight="bold" text-anchor="middle" fill="#000" textLength="122.0" lengthAdjust="spacingAndGlyphs">probiotics</text><text x="49.8" y="2227.9" font-size="30" font-weight="bold" text-anchor="middle" fill="#000" textLength="212.0" lengthAdjust="spacingAndGlyphs" transform="rotate(-90 49.8 2227.9)">Mean RAY (µm)</text><line x1="302.2" y1="2267.2" x2="302.2" y2="2321.2" stroke="#22834e" stroke-width="2"/><line x1="302.2" y1="2404.6" x2="302.2" y2="2411.4" stroke="#22834e" stroke-width="2"/><rect x="238.6" y="2321.2" width="127.0" height="83.4" fill="#a9d3be" stroke="#22834e" stroke-width="2.2"/><line x1="238.6" y1="2365.0" x2="365.6" y2="2365.0" stroke="#22834e" stroke-width="3.6"/><ellipse cx="292.5" cy="2266.9" rx="7.0" ry="6.0" fill="#5fab84" fill-opacity="0.6"/><ellipse cx="286.1" cy="2318.5" rx="7.0" ry="6.0" fill="#5fab84" fill-opacity="0.6"/><ellipse cx="230.3" cy="2334.8" rx="7.0" ry="6.0" fill="#5fab84" fill-opacity="0.6"/><ellipse cx="269.1" cy="2408.9" rx="7.0" ry="6.0" fill="#5fab84" fill-opacity="0.6"/><ellipse cx="334.9" cy="2411.2" rx="7.0" ry="6.0" fill="#5fab84" fill-opacity="0.6"/><ellipse cx="352.0" cy="2395.7" rx="7.0" ry="6.0" fill="#5fab84" fill-opacity="0.6"/><ellipse cx="355.2" cy="2395.7" rx="7.0" ry="6.0" fill="#5fab84" fill-opacity="0.6"/><line x1="619.0" y1="2052.0" x2="619.0" y2="2147.3" stroke="#d4a832" stroke-width="2"/><line x1="619.0" y1="2261.2" x2="619.0" y2="2346.3" stroke="#d4a832" stroke-width="2"/><rect x="555.6" y="2147.3" width="126.8" height="113.9" fill="#eddfab" stroke="#d4a832" stroke-width="2.2"/><line x1="555.6" y1="2203.7" x2="682.4" y2="2203.7" stroke="#d4a832" stroke-width="3.6"/><ellipse cx="573.4" cy="2050.3" rx="7.0" ry="6.0" fill="#dcc070" fill-opacity="0.6"/><ellipse cx="589.7" cy="2131.6" rx="7.0" ry="6.0" fill="#dcc070" fill-opacity="0.6"/><ellipse cx="688.3" cy="2196.1" rx="7.0" ry="6.0" fill="#dcc070" fill-opacity="0.6"/><ellipse cx="588.1" cy="2209.7" rx="7.0" ry="6.0" fill="#dcc070" fill-opacity="0.6"/><ellipse cx="548.5" cy="2278.5" rx="7.0" ry="6.0" fill="#dcc070" fill-opacity="0.6"/><ellipse cx="606.0" cy="2348.4" rx="7.0" ry="6.0" fill="#dcc070" fill-opacity="0.6"/><text x="916.0" y="1983.0" font-size="62" font-weight="bold" text-anchor="start" fill="#000">g</text><rect x="1023.6" y="1983.5" width="692.6" height="48.8" fill="#fff" stroke="#000" stroke-width="2.6"/><text x="1371.2" y="2023.2" font-size="37" font-weight="normal" text-anchor="middle" fill="#000" textLength="129.0" lengthAdjust="spacingAndGlyphs">10 DPA</text><text x="1169.7" y="2055.0" font-size="25.6" font-weight="normal" text-anchor="start" fill="#000" textLength="206.5" lengthAdjust="spacingAndGlyphs">T-test, p = 0.047</text><line x1="1024.7" y1="2037.5" x2="1024.7" y2="2436.5" stroke="#000" stroke-width="3"/><line x1="1023.2" y1="2435.0" x2="1707.3" y2="2435.0" stroke="#000" stroke-width="3"/><line x1="1020.5" y1="2367.3" x2="1024.5" y2="2367.3" stroke="#000" stroke-width="2"/><text x="1018.5" y="2374.9" font-size="21.5" font-weight="bold" text-anchor="end" fill="#000" textLength="41.0" lengthAdjust="spacingAndGlyphs">280</text><line x1="1020.5" y1="2289.6" x2="1024.5" y2="2289.6" stroke="#000" stroke-width="2"/><text x="1018.5" y="2297.2" font-size="21.5" font-weight="bold" text-anchor="end" fill="#000" textLength="41.0" lengthAdjust="spacingAndGlyphs">300</text><line x1="1020.5" y1="2212.0" x2="1024.5" y2="2212.0" stroke="#000" stroke-width="2"/><text x="1018.5" y="2219.6" font-size="21.5" font-weight="bold" text-anchor="end" fill="#000" textLength="41.0" lengthAdjust="spacingAndGlyphs">320</text><line x1="1020.5" y1="2134.3" x2="1024.5" y2="2134.3" stroke="#000" stroke-width="2"/><text x="1018.5" y="2141.9" font-size="21.5" font-weight="bold" text-anchor="end" fill="#000" textLength="41.0" lengthAdjust="spacingAndGlyphs">340</text><line x1="1020.5" y1="2056.7" x2="1024.5" y2="2056.7" stroke="#000" stroke-width="2"/><text x="1018.5" y="2064.3" font-size="21.5" font-weight="bold" text-anchor="end" fill="#000" textLength="41.0" lengthAdjust="spacingAndGlyphs">360</text><line x1="1210.7" y1="2436.5" x2="1210.7" y2="2440.5" stroke="#000" stroke-width="2"/><line x1="1521.1" y1="2436.5" x2="1521.1" y2="2440.5" stroke="#000" stroke-width="2"/><text x="1210.6" y="2457.4" font-size="25.3" font-weight="bold" text-anchor="middle" fill="#000" textLength="85.0" lengthAdjust="spacingAndGlyphs">control</text><text x="1521.0" y="2457.4" font-size="25.3" font-weight="bold" text-anchor="middle" fill="#000" textLength="122.0" lengthAdjust="spacingAndGlyphs">probiotics</text><text x="949.2" y="2227.6" font-size="31.4" font-weight="bold" text-anchor="middle" fill="#000" textLength="204.0" lengthAdjust="spacingAndGlyphs" transform="rotate(-90 949.2 2227.6)">Mean SEG (µm)</text><line x1="1210.7" y1="2054.7" x2="1210.7" y2="2094.4" stroke="#22834e" stroke-width="2"/><line x1="1210.7" y1="2237.0" x2="1210.7" y2="2294.6" stroke="#22834e" stroke-width="2"/><rect x="1148.0" y="2094.4" width="125.0" height="142.6" fill="#a9d3be" stroke="#22834e" stroke-width="2.2"/><line x1="1148.0" y1="2189.0" x2="1273.0" y2="2189.0" stroke="#22834e" stroke-width="3.6"/><ellipse cx="1217.2" cy="2066.2" rx="7.0" ry="6.0" fill="#5fab84" fill-opacity="0.6"/><ellipse cx="1236.0" cy="2055.5" rx="7.0" ry="6.0" fill="#5fab84" fill-opacity="0.6"/><ellipse cx="1259.4" cy="2172.5" rx="7.0" ry="6.0" fill="#5fab84" fill-opacity="0.6"/><ellipse cx="1265.3" cy="2172.5" rx="7.0" ry="6.0" fill="#5fab84" fill-opacity="0.6"/><ellipse cx="1242.3" cy="2206.8" rx="7.0" ry="6.0" fill="#5fab84" fill-opacity="0.6"/><ellipse cx="1273.8" cy="2249.7" rx="7.0" ry="6.0" fill="#5fab84" fill-opacity="0.6"/><ellipse cx="1224.4" cy="2296.4" rx="7.0" ry="6.0" fill="#5fab84" fill-opacity="0.6"/><line x1="1521.1" y1="2178.0" x2="1521.1" y2="2226.0" stroke="#d4a832" stroke-width="2"/><line x1="1521.1" y1="2361.3" x2="1521.1" y2="2414.5" stroke="#d4a832" stroke-width="2"/><rect x="1458.7" y="2226.0" width="125.0" height="135.3" fill="#eddfab" stroke="#d4a832" stroke-width="2.2"/><line x1="1458.7" y1="2308.7" x2="1583.7" y2="2308.7" stroke="#d4a832" stroke-width="3.6"/><ellipse cx="1563.0" cy="2175.7" rx="7.0" ry="6.0" fill="#dcc070" fill-opacity="0.6"/><ellipse cx="1508.9" cy="2204.7" rx="7.0" ry="6.0" fill="#dcc070" fill-opacity="0.6"/><ellipse cx="1517.1" cy="2285.5" rx="7.0" ry="6.0" fill="#dcc070" fill-opacity="0.6"/><ellipse cx="1463.6" cy="2331.0" rx="7.0" ry="6.0" fill="#dcc070" fill-opacity="0.6"/><ellipse cx="1468.7" cy="2331.0" rx="7.0" ry="6.0" fill="#dcc070" fill-opacity="0.6"/><ellipse cx="1510.3" cy="2371.3" rx="7.0" ry="6.0" fill="#dcc070" fill-opacity="0.6"/><ellipse cx="1526.2" cy="2414.3" rx="7.0" ry="6.0" fill="#dcc070" fill-opacity="0.6"/>
</svg>
</body></html>
